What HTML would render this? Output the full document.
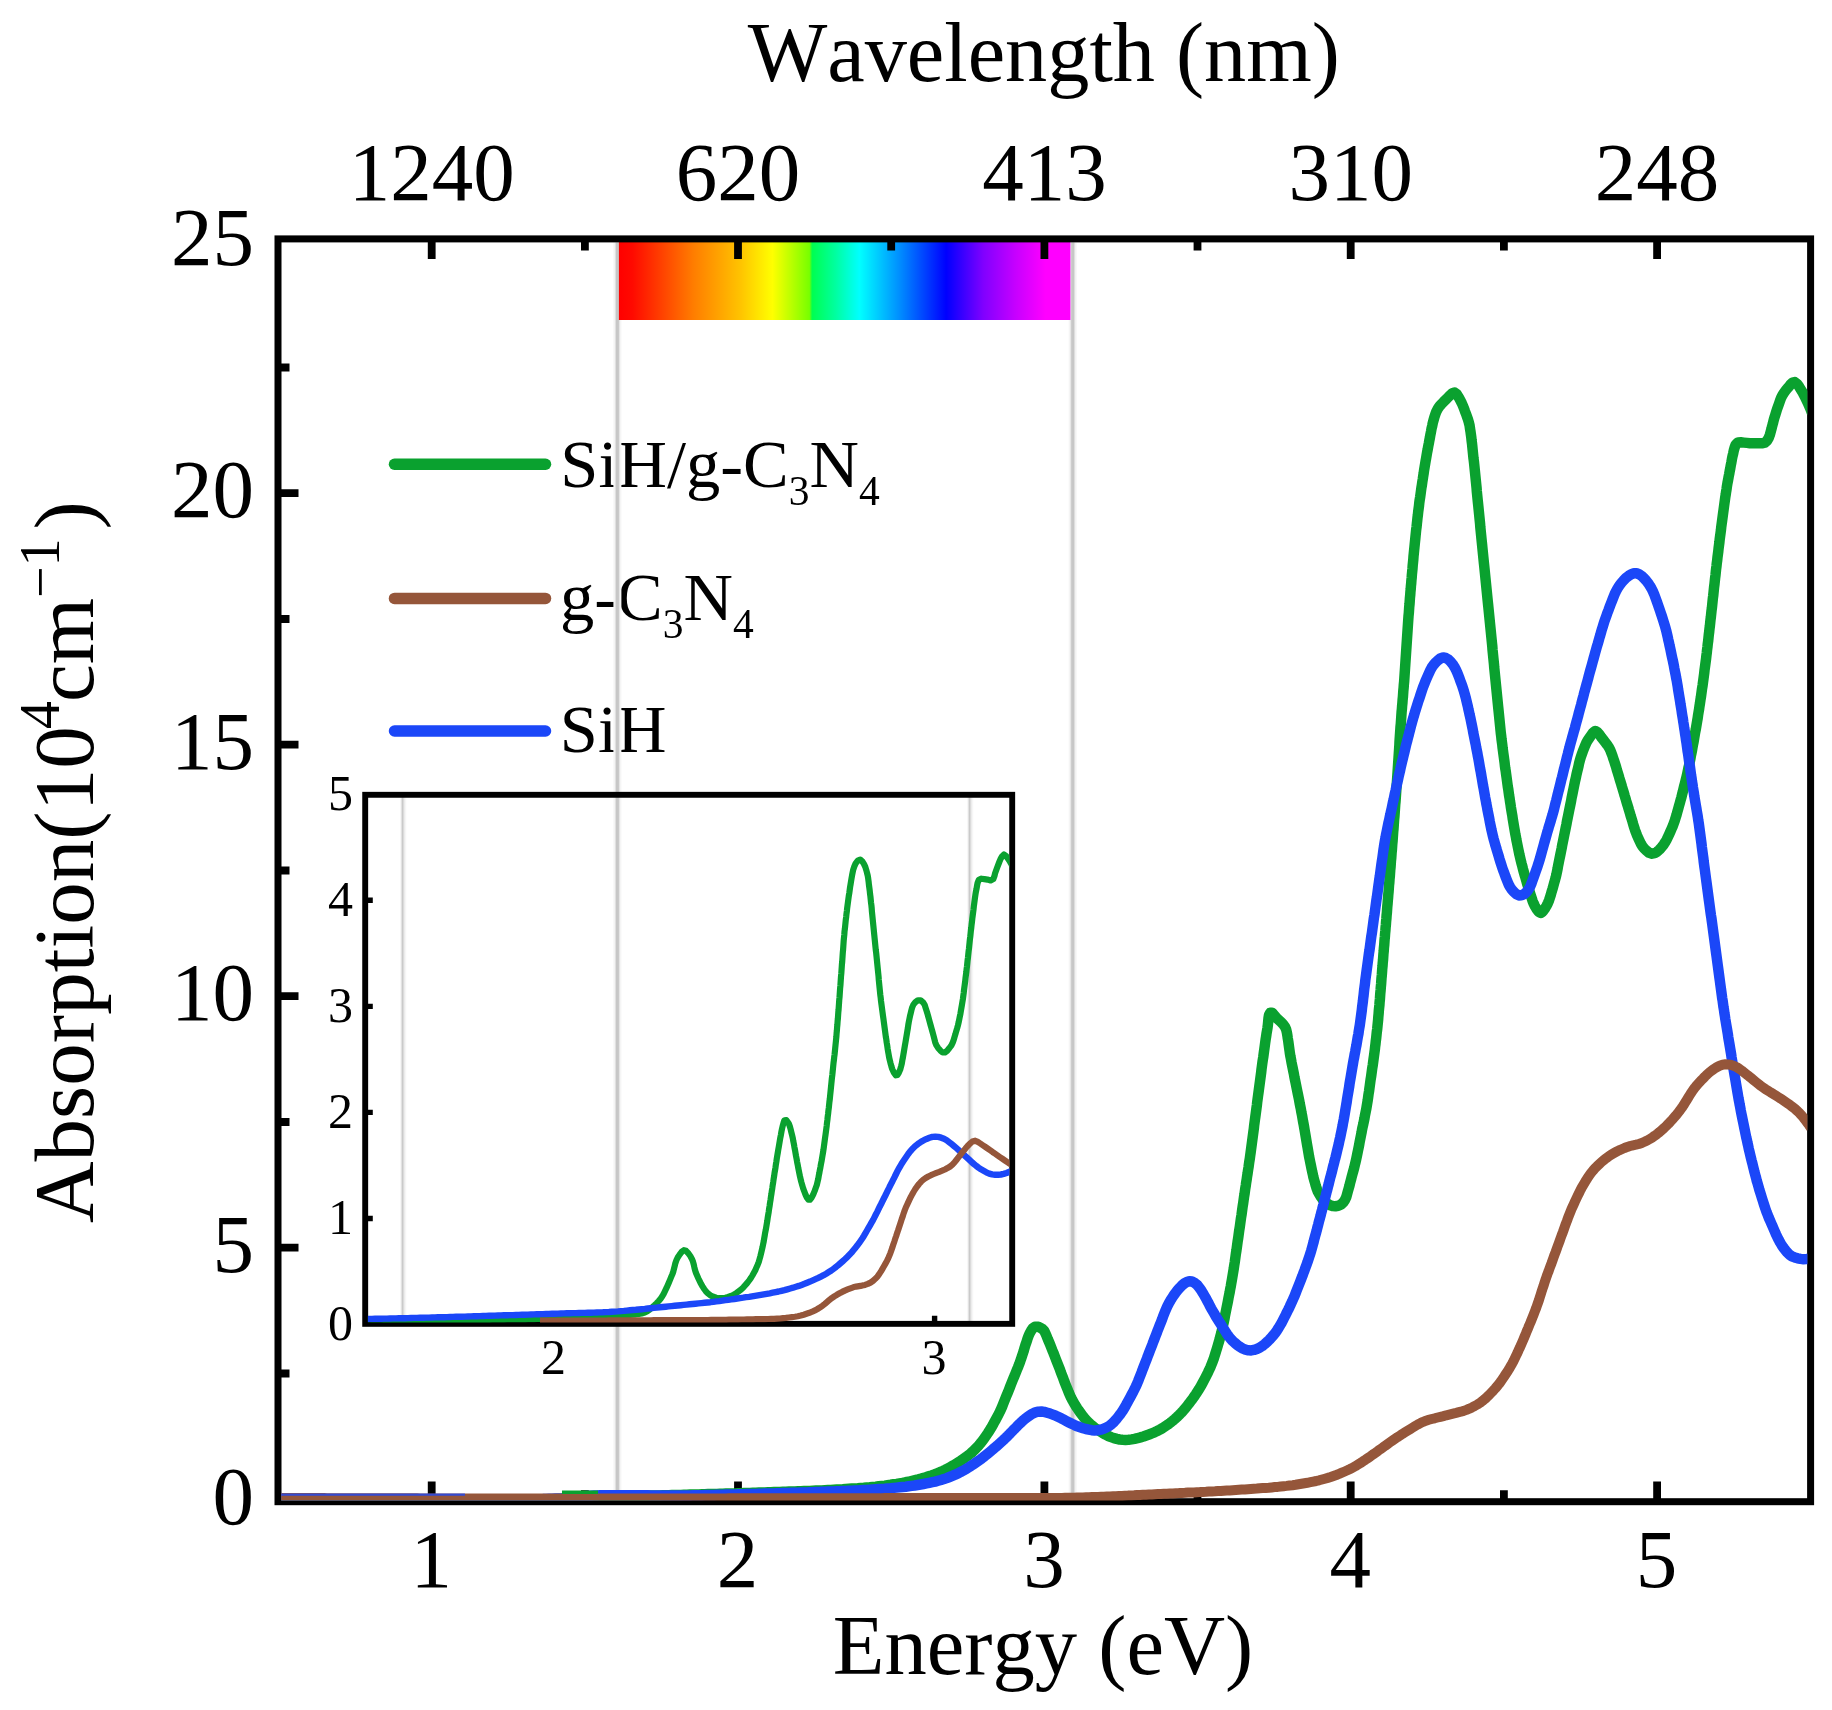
<!DOCTYPE html>
<html lang="en"><head><meta charset="utf-8"><title>Absorption spectra</title>
<style>html,body{margin:0;padding:0;background:#fff}svg{display:block;filter:blur(0.5px)}text{font-family:"Liberation Serif","Times New Roman",serif;fill:#000;font-kerning:none}</style></head><body>
<svg width="1832" height="1710" viewBox="0 0 1832 1710">
<rect width="1832" height="1710" fill="#fff"/>
<defs>
<linearGradient id="spec" x1="0" x2="1" y1="0" y2="0">
<stop offset="0" stop-color="#ff0000"/>
<stop offset="0.03" stop-color="#ff0a00"/>
<stop offset="0.165" stop-color="#ff7d00"/>
<stop offset="0.27" stop-color="#ffc400"/>
<stop offset="0.34" stop-color="#ffff00"/>
<stop offset="0.385" stop-color="#b4ff00"/>
<stop offset="0.422" stop-color="#78ff00"/>
<stop offset="0.428" stop-color="#00ff50"/>
<stop offset="0.48" stop-color="#00ffa0"/>
<stop offset="0.533" stop-color="#00ffff"/>
<stop offset="0.62" stop-color="#0090ff"/>
<stop offset="0.725" stop-color="#0000ff"/>
<stop offset="0.807" stop-color="#8000ff"/>
<stop offset="0.88" stop-color="#c800ff"/>
<stop offset="0.945" stop-color="#ff00ff"/>
<stop offset="1" stop-color="#ff00ff"/>
</linearGradient>
<clipPath id="cm"><rect x="281.2" y="238.9" width="1526.1999999999998" height="1261.6"/></clipPath>
<clipPath id="ci"><rect x="367.9" y="794.8" width="641.6" height="527.7"/></clipPath>
</defs>
<line x1="394.5" y1="464.2" x2="545.5" y2="464.2" stroke="#0aa12f" stroke-width="11.5" stroke-linecap="round"/>
<line x1="394.5" y1="598.4" x2="545.5" y2="598.4" stroke="#95563a" stroke-width="11.5" stroke-linecap="round"/>
<line x1="394.5" y1="731.0" x2="545.5" y2="731.0" stroke="#1b47f8" stroke-width="11.5" stroke-linecap="round"/>
<text x="560.3" y="486.8" font-size="68.5">SiH/g-C<tspan font-size="41.5" dy="18.5">3</tspan><tspan dy="-18.5">N</tspan><tspan font-size="41.5" dy="18.5">4</tspan></text>
<text x="560" y="620.1" font-size="68.5">g-C<tspan font-size="41.5" dy="17.5">3</tspan><tspan dy="-17.5">N</tspan><tspan font-size="41.5" dy="17.5">4</tspan></text>
<text x="559.8" y="752.3" font-size="68.5">SiH</text>
<line x1="617.4" y1="242.4" x2="617.4" y2="1498.2" stroke="#f5f5f5" stroke-width="8"/>
<line x1="617.4" y1="242.4" x2="617.4" y2="1498.2" stroke="#e4e4e4" stroke-width="5"/>
<line x1="617.4" y1="242.4" x2="617.4" y2="1498.2" stroke="#c7c7c7" stroke-width="3"/>
<line x1="1072.7" y1="242.4" x2="1072.7" y2="1498.2" stroke="#f5f5f5" stroke-width="8"/>
<line x1="1072.7" y1="242.4" x2="1072.7" y2="1498.2" stroke="#e4e4e4" stroke-width="5"/>
<line x1="1072.7" y1="242.4" x2="1072.7" y2="1498.2" stroke="#c7c7c7" stroke-width="3"/>
<line x1="403.20000000000005" y1="794.8" x2="403.20000000000005" y2="1323.85" stroke="#f6f6f6" stroke-width="6"/>
<line x1="402.90000000000003" y1="794.8" x2="402.90000000000003" y2="1323.85" stroke="#e6e6e6" stroke-width="3.4"/>
<line x1="402.6" y1="794.8" x2="402.6" y2="1323.85" stroke="#cacaca" stroke-width="1.6"/>
<line x1="970.2" y1="794.8" x2="970.2" y2="1323.85" stroke="#f6f6f6" stroke-width="6"/>
<line x1="969.9" y1="794.8" x2="969.9" y2="1323.85" stroke="#e6e6e6" stroke-width="3.4"/>
<line x1="969.6" y1="794.8" x2="969.6" y2="1323.85" stroke="#cacaca" stroke-width="1.6"/>
<rect x="618.9" y="241.9" width="451.5" height="78.1" fill="url(#spec)"/>
<rect x="278.0" y="238.9" width="1532.6" height="1262.8" fill="none" stroke="#000" stroke-width="7.0"/>
<path d="M431.7 1501.7 V1481.4 M431.7 238.9 V258.9 M738.0 1501.7 V1481.4 M738.0 238.9 V258.9 M1044.4 1501.7 V1481.4 M1044.4 238.9 V258.9 M1350.7 1501.7 V1481.4 M1350.7 238.9 V258.9 M1657.1 1501.7 V1481.4 M1657.1 238.9 V258.9 M584.9 1501.7 V1490.2 M584.9 238.9 V250.4 M891.2 1501.7 V1490.2 M891.2 238.9 V250.4 M1197.5 1501.7 V1490.2 M1197.5 238.9 V250.4 M1503.9 1501.7 V1490.2 M1503.9 238.9 V250.4 M278.0 1247.7 H298.5 M278.0 996.2 H298.5 M278.0 744.7 H298.5 M278.0 493.2 H298.5 M278.0 1373.5 H289.5 M278.0 1122.0 H289.5 M278.0 870.5 H289.5 M278.0 619.0 H289.5 M278.0 367.5 H289.5" stroke="#000" stroke-width="7.8" fill="none"/>
<g clip-path="url(#cm)" fill="none" stroke-linejoin="round" stroke-linecap="butt" stroke-width="10.5">
<path d="M279.0 1499.0 L282.0 1499.1 L285.0 1499.1 L288.0 1499.2 L291.0 1499.3 L294.0 1499.4 L297.0 1499.4 L300.0 1499.5 L303.0 1499.6 L306.0 1499.6 L309.0 1499.7 L312.0 1499.8 L315.0 1499.8 L318.0 1499.9 L321.0 1499.9 L324.0 1500.0 L327.0 1500.1 L330.0 1500.1 L333.0 1500.2 L336.0 1500.2 L339.0 1500.3 L342.0 1500.3 L345.0 1500.4 L348.0 1500.4 L351.0 1500.5 L354.0 1500.5 L357.0 1500.6 L360.0 1500.6 L363.0 1500.6 L366.0 1500.7 L369.0 1500.7 L372.0 1500.7 L375.0 1500.8 L378.0 1500.8 L381.0 1500.8 L384.0 1500.9 L387.0 1500.9 L390.0 1500.9 L393.0 1500.9 L396.0 1501.0 L399.0 1501.0 L402.0 1501.0 L405.0 1501.0 L408.0 1501.0 L411.0 1501.1 L414.0 1501.1 L417.0 1501.1 L420.0 1501.1 L423.0 1501.1 L426.0 1501.1 L429.0 1501.1 L432.0 1501.1 L435.0 1501.1 L438.0 1501.1 L441.0 1501.1 L444.0 1501.1 L447.0 1501.1 L450.0 1501.0 L453.0 1501.0 L456.0 1501.0 L459.0 1501.0 L462.0 1501.0 L465.0 1501.0 L468.0 1500.9 L471.0 1500.9 L474.0 1500.9 L477.0 1500.8 L480.0 1500.8 L483.0 1500.8 L486.0 1500.7 L489.0 1500.7 L492.0 1500.6 L495.0 1500.6 L498.0 1500.6 L501.0 1500.5 L504.0 1500.5 L507.0 1500.4 L510.0 1500.3 L513.0 1500.3 L516.0 1500.2 L519.0 1500.2 L522.0 1500.1 L525.0 1500.0 L528.0 1499.9 L531.0 1499.9 L534.0 1499.8 L537.0 1499.7 L540.0 1499.6 L543.0 1499.5 L546.0 1499.4 L549.0 1499.4 L552.0 1499.3 L555.0 1499.2 L558.0 1499.1 L561.0 1499.0 L564.0 1498.8 L567.0 1498.7 L570.0 1498.6 L573.0 1498.4 L576.0 1498.2 L579.0 1498.0 L582.0 1497.9 L585.0 1497.7 L588.0 1497.5 L591.0 1497.4 L594.0 1497.2 L597.0 1497.1 L600.0 1497.0 L602.9 1496.9 L605.9 1496.8 L608.9 1496.7 L611.9 1496.7 L614.9 1496.6 L617.9 1496.5 L620.9 1496.4 L623.9 1496.3 L626.9 1496.2 L629.9 1496.2 L632.9 1496.1 L635.9 1496.0 L638.9 1495.9 L641.9 1495.9 L644.9 1495.8 L647.9 1495.7 L650.9 1495.6 L653.9 1495.5 L656.9 1495.5 L659.9 1495.4 L662.9 1495.3 L665.9 1495.2 L668.9 1495.2 L671.9 1495.1 L674.9 1495.0 L677.9 1494.9 L680.9 1494.9 L683.9 1494.8 L686.9 1494.7 L689.9 1494.6 L692.9 1494.5 L695.9 1494.5 L698.9 1494.4 L701.9 1494.3 L704.9 1494.2 L707.9 1494.1 L710.9 1494.1 L713.9 1494.0 L716.9 1493.9 L719.9 1493.8 L722.9 1493.7 L725.9 1493.6 L728.9 1493.6 L731.9 1493.5 L734.9 1493.4 L737.9 1493.3 L740.9 1493.2 L743.9 1493.1 L746.9 1493.0 L749.9 1492.9 L752.9 1492.8 L755.9 1492.7 L758.9 1492.6 L761.9 1492.5 L764.9 1492.4 L767.9 1492.3 L770.9 1492.2 L773.9 1492.1 L776.9 1492.0 L779.9 1491.9 L782.9 1491.8 L785.9 1491.7 L788.9 1491.6 L791.9 1491.5 L794.9 1491.4 L797.9 1491.3 L800.9 1491.2 L803.9 1491.1 L806.9 1491.0 L809.9 1490.9 L812.9 1490.7 L815.9 1490.6 L818.9 1490.5 L821.8 1490.4 L824.8 1490.2 L827.8 1490.1 L830.8 1490.0 L833.8 1489.8 L836.8 1489.6 L839.8 1489.5 L842.8 1489.3 L845.8 1489.0 L848.8 1488.8 L851.8 1488.6 L854.8 1488.4 L857.8 1488.2 L860.8 1487.9 L863.8 1487.7 L866.8 1487.4 L869.7 1487.2 L872.7 1486.9 L875.7 1486.6 L878.7 1486.2 L881.7 1485.9 L884.7 1485.6 L887.6 1485.2 L890.6 1484.8 L893.6 1484.3 L896.5 1483.9 L899.5 1483.4 L902.5 1482.9 L905.4 1482.3 L908.4 1481.8 L911.3 1481.1 L914.2 1480.4 L917.1 1479.7 L920.0 1478.9 L922.9 1478.0 L925.8 1477.2 L928.6 1476.3 L931.5 1475.4 L934.3 1474.4 L937.1 1473.3 L939.9 1472.2 L942.7 1471.0 L945.4 1469.7 L948.0 1468.3 L950.7 1466.9 L953.3 1465.4 L955.8 1463.8 L958.4 1462.2 L960.9 1460.6 L963.4 1458.9 L965.9 1457.2 L968.2 1455.4 L970.6 1453.5 L972.8 1451.5 L975.0 1449.4 L977.1 1447.2 L979.1 1445.0 L981.0 1442.7 L982.8 1440.3 L984.6 1437.9 L986.3 1435.4 L988.0 1432.9 L989.6 1430.4 L991.2 1427.8 L992.7 1425.2 L994.1 1422.6 L995.6 1419.9 L997.0 1417.3 L998.4 1414.6 L999.7 1412.0 L1001.0 1409.2 L1002.2 1406.5 L1003.3 1403.7 L1004.4 1400.9 L1005.5 1398.1 L1006.6 1395.3 L1007.8 1392.6 L1008.9 1389.8 L1010.0 1387.0 L1011.1 1384.2 L1012.2 1381.4 L1013.3 1378.6 L1014.5 1375.9 L1015.6 1373.1 L1016.7 1370.3 L1017.9 1367.5 L1019.0 1364.7 L1020.0 1361.9 L1021.0 1359.1 L1021.9 1356.3 L1022.9 1353.4 L1023.8 1350.6 L1024.6 1347.7 L1025.5 1344.8 L1026.5 1342.0 L1027.4 1339.1 L1028.4 1336.3 L1029.6 1333.5 L1031.1 1330.8 L1032.8 1328.3 L1035.0 1326.7 L1038.3 1326.8 L1041.7 1328.4 L1044.2 1330.8 L1045.5 1333.5 L1046.7 1336.3 L1047.8 1339.1 L1049.0 1341.9 L1050.1 1344.6 L1051.2 1347.4 L1052.3 1350.2 L1053.5 1353.0 L1054.6 1355.8 L1055.6 1358.5 L1056.7 1361.3 L1057.8 1364.1 L1058.9 1366.9 L1060.0 1369.7 L1061.0 1372.6 L1062.1 1375.4 L1063.2 1378.2 L1064.2 1381.0 L1065.3 1383.8 L1066.4 1386.6 L1067.5 1389.3 L1068.6 1392.1 L1069.8 1394.9 L1071.0 1397.6 L1072.4 1400.2 L1073.9 1402.8 L1075.4 1405.4 L1077.0 1407.9 L1078.7 1410.4 L1080.5 1412.9 L1082.3 1415.3 L1084.2 1417.8 L1086.2 1420.1 L1088.2 1422.2 L1090.4 1424.2 L1092.7 1426.1 L1095.0 1428.0 L1097.5 1429.7 L1100.1 1431.4 L1102.8 1433.1 L1105.5 1434.6 L1108.3 1436.0 L1111.1 1437.1 L1113.9 1438.1 L1116.8 1438.9 L1119.6 1439.5 L1122.6 1439.8 L1125.5 1439.9 L1128.5 1439.8 L1131.5 1439.4 L1134.5 1438.9 L1137.5 1438.2 L1140.4 1437.4 L1143.4 1436.5 L1146.2 1435.5 L1149.0 1434.5 L1151.8 1433.4 L1154.5 1432.3 L1157.2 1431.0 L1159.9 1429.6 L1162.5 1428.1 L1165.1 1426.4 L1167.7 1424.7 L1170.1 1422.9 L1172.5 1421.0 L1174.7 1419.1 L1176.9 1417.1 L1179.1 1415.0 L1181.2 1412.9 L1183.2 1410.7 L1185.2 1408.3 L1187.1 1406.0 L1189.0 1403.6 L1190.8 1401.2 L1192.6 1398.8 L1194.3 1396.4 L1196.0 1393.9 L1197.6 1391.4 L1199.2 1388.9 L1200.7 1386.3 L1202.2 1383.6 L1203.6 1381.0 L1205.0 1378.3 L1206.4 1375.6 L1207.8 1372.9 L1209.0 1370.2 L1210.3 1367.5 L1211.4 1364.8 L1212.5 1362.0 L1213.6 1359.2 L1214.5 1356.3 L1215.4 1353.4 L1216.3 1350.5 L1217.2 1347.7 L1218.0 1344.8 L1218.9 1341.9 L1219.7 1339.0 L1220.4 1336.1 L1221.2 1333.2 L1221.9 1330.3 L1222.6 1327.4 L1223.2 1324.5 L1223.9 1321.5 L1224.5 1318.6 L1225.0 1315.6 L1225.6 1312.7 L1226.2 1309.7 L1226.8 1306.8 L1227.4 1303.9 L1228.0 1300.9 L1228.5 1298.0 L1229.1 1295.0 L1229.7 1292.1 L1230.2 1289.1 L1230.8 1286.2 L1231.3 1283.2 L1231.8 1280.3 L1232.3 1277.3 L1232.8 1274.4 L1233.3 1271.4 L1233.8 1268.4 L1234.2 1265.5 L1234.7 1262.5 L1235.1 1259.5 L1235.5 1256.6 L1235.9 1253.6 L1236.4 1250.6 L1236.8 1247.7 L1237.2 1244.7 L1237.6 1241.7 L1238.1 1238.7 L1238.5 1235.8 L1238.9 1232.8 L1239.3 1229.8 L1239.8 1226.9 L1240.2 1223.9 L1240.6 1220.9 L1241.0 1218.0 L1241.5 1215.0 L1241.9 1212.0 L1242.3 1209.0 L1242.7 1206.1 L1243.2 1203.1 L1243.6 1200.1 L1244.0 1197.2 L1244.5 1194.2 L1244.9 1191.2 L1245.3 1188.3 L1245.8 1185.3 L1246.2 1182.3 L1246.7 1179.4 L1247.1 1176.4 L1247.6 1173.4 L1248.0 1170.5 L1248.5 1167.5 L1248.9 1164.5 L1249.3 1161.6 L1249.8 1158.6 L1250.2 1155.6 L1250.6 1152.7 L1251.0 1149.7 L1251.4 1146.7 L1251.8 1143.7 L1252.2 1140.8 L1252.6 1137.8 L1253.0 1134.8 L1253.4 1131.8 L1253.8 1128.9 L1254.1 1125.9 L1254.5 1122.9 L1254.9 1119.9 L1255.3 1117.0 L1255.7 1114.0 L1256.1 1111.0 L1256.5 1108.0 L1256.9 1105.1 L1257.2 1102.1 L1257.6 1099.1 L1258.0 1096.1 L1258.4 1093.2 L1258.8 1090.2 L1259.2 1087.2 L1259.6 1084.2 L1260.0 1081.3 L1260.4 1078.3 L1260.8 1075.3 L1261.2 1072.3 L1261.5 1069.4 L1261.9 1066.4 L1262.3 1063.4 L1262.7 1060.5 L1263.2 1057.5 L1263.6 1054.5 L1264.0 1051.5 L1264.4 1048.6 L1264.8 1045.6 L1265.2 1042.6 L1265.6 1039.7 L1266.1 1036.7 L1266.5 1033.7 L1267.0 1030.8 L1267.5 1027.8 L1267.9 1024.8 L1268.2 1021.5 L1268.5 1018.2 L1269.0 1015.2 L1270.2 1012.8 L1272.1 1012.7 L1274.4 1015.4 L1276.7 1018.2 L1278.9 1020.2 L1281.1 1022.2 L1283.2 1024.4 L1285.0 1026.8 L1286.2 1029.6 L1286.9 1032.6 L1287.4 1035.6 L1287.8 1038.5 L1288.3 1041.5 L1288.7 1044.5 L1289.1 1047.5 L1289.5 1050.4 L1289.9 1053.4 L1290.4 1056.3 L1291.0 1059.3 L1291.5 1062.2 L1292.1 1065.2 L1292.7 1068.1 L1293.3 1071.1 L1293.9 1074.0 L1294.4 1077.0 L1295.0 1079.9 L1295.6 1082.8 L1296.2 1085.8 L1296.8 1088.7 L1297.4 1091.7 L1298.0 1094.6 L1298.6 1097.5 L1299.2 1100.5 L1299.7 1103.4 L1300.3 1106.4 L1300.9 1109.3 L1301.4 1112.3 L1302.0 1115.2 L1302.5 1118.2 L1303.0 1121.1 L1303.6 1124.1 L1304.1 1127.0 L1304.6 1130.0 L1305.1 1132.9 L1305.6 1135.9 L1306.1 1138.9 L1306.6 1141.8 L1307.1 1144.8 L1307.6 1147.7 L1308.1 1150.7 L1308.6 1153.7 L1309.1 1156.6 L1309.7 1159.5 L1310.3 1162.5 L1310.9 1165.4 L1311.5 1168.4 L1312.1 1171.3 L1312.8 1174.2 L1313.4 1177.2 L1314.2 1180.1 L1315.0 1182.9 L1315.8 1185.8 L1316.7 1188.7 L1317.8 1191.5 L1319.2 1194.1 L1320.8 1196.7 L1322.6 1199.2 L1324.5 1201.4 L1326.8 1203.3 L1329.5 1205.0 L1332.5 1206.0 L1335.5 1206.2 L1338.3 1205.8 L1341.1 1204.5 L1343.4 1202.2 L1345.1 1199.7 L1346.3 1197.0 L1347.1 1194.1 L1347.9 1191.2 L1348.7 1188.4 L1349.5 1185.5 L1350.2 1182.6 L1351.0 1179.7 L1351.7 1176.8 L1352.5 1173.9 L1353.3 1171.0 L1354.1 1168.1 L1354.8 1165.1 L1355.5 1162.2 L1356.2 1159.3 L1356.8 1156.4 L1357.4 1153.4 L1358.0 1150.5 L1358.6 1147.6 L1359.2 1144.6 L1359.7 1141.7 L1360.3 1138.7 L1360.9 1135.8 L1361.5 1132.8 L1362.0 1129.9 L1362.6 1126.9 L1363.3 1124.0 L1363.9 1121.1 L1364.5 1118.1 L1365.0 1115.2 L1365.6 1112.2 L1366.2 1109.3 L1366.7 1106.3 L1367.2 1103.4 L1367.7 1100.4 L1368.1 1097.5 L1368.5 1094.5 L1369.0 1091.5 L1369.4 1088.5 L1369.8 1085.6 L1370.2 1082.6 L1370.6 1079.6 L1371.1 1076.7 L1371.5 1073.7 L1371.9 1070.7 L1372.3 1067.8 L1372.8 1064.8 L1373.2 1061.8 L1373.6 1058.8 L1374.0 1055.9 L1374.4 1052.9 L1374.8 1049.9 L1375.1 1046.9 L1375.5 1044.0 L1375.8 1041.0 L1376.2 1038.0 L1376.5 1035.0 L1376.8 1032.0 L1377.2 1029.1 L1377.5 1026.1 L1377.8 1023.1 L1378.1 1020.1 L1378.3 1017.1 L1378.6 1014.1 L1378.8 1011.1 L1379.1 1008.1 L1379.4 1005.2 L1379.6 1002.2 L1379.9 999.2 L1380.1 996.2 L1380.3 993.2 L1380.6 990.2 L1380.8 987.2 L1381.1 984.2 L1381.3 981.2 L1381.5 978.2 L1381.8 975.2 L1382.0 972.3 L1382.2 969.3 L1382.5 966.3 L1382.7 963.3 L1383.0 960.3 L1383.2 957.3 L1383.4 954.3 L1383.7 951.3 L1383.9 948.3 L1384.2 945.3 L1384.4 942.4 L1384.6 939.4 L1384.9 936.4 L1385.1 933.4 L1385.4 930.4 L1385.6 927.4 L1385.9 924.4 L1386.1 921.4 L1386.4 918.4 L1386.6 915.4 L1386.9 912.5 L1387.1 909.5 L1387.3 906.5 L1387.6 903.5 L1387.8 900.5 L1388.1 897.5 L1388.3 894.5 L1388.6 891.5 L1388.8 888.5 L1389.0 885.5 L1389.3 882.6 L1389.5 879.6 L1389.8 876.6 L1390.0 873.6 L1390.2 870.6 L1390.5 867.6 L1390.7 864.6 L1390.9 861.6 L1391.2 858.6 L1391.4 855.6 L1391.6 852.6 L1391.9 849.7 L1392.1 846.7 L1392.3 843.7 L1392.6 840.7 L1392.8 837.7 L1393.0 834.7 L1393.2 831.7 L1393.5 828.7 L1393.7 825.7 L1393.9 822.7 L1394.1 819.7 L1394.4 816.7 L1394.6 813.8 L1394.8 810.8 L1395.0 807.8 L1395.2 804.8 L1395.5 801.8 L1395.7 798.8 L1395.9 795.8 L1396.1 792.8 L1396.3 789.8 L1396.5 786.8 L1396.8 783.8 L1397.0 780.8 L1397.2 777.9 L1397.4 774.9 L1397.6 771.9 L1397.8 768.9 L1398.0 765.9 L1398.2 762.9 L1398.4 759.9 L1398.6 756.9 L1398.8 753.9 L1399.0 750.9 L1399.2 747.9 L1399.4 744.9 L1399.5 741.9 L1399.7 738.9 L1399.9 735.9 L1400.1 732.9 L1400.3 730.0 L1400.5 727.0 L1400.8 724.0 L1401.0 721.0 L1401.2 718.0 L1401.4 715.0 L1401.6 712.0 L1401.9 709.0 L1402.1 706.0 L1402.4 703.0 L1402.6 700.0 L1402.9 697.1 L1403.1 694.1 L1403.3 691.1 L1403.6 688.1 L1403.8 685.1 L1404.1 682.1 L1404.3 679.1 L1404.5 676.1 L1404.7 673.1 L1404.9 670.1 L1405.1 667.1 L1405.3 664.1 L1405.5 661.2 L1405.7 658.2 L1405.9 655.2 L1406.1 652.2 L1406.3 649.2 L1406.5 646.2 L1406.7 643.2 L1406.9 640.2 L1407.1 637.2 L1407.3 634.2 L1407.5 631.2 L1407.7 628.2 L1407.9 625.2 L1408.1 622.2 L1408.3 619.2 L1408.5 616.3 L1408.8 613.3 L1409.0 610.3 L1409.2 607.3 L1409.5 604.3 L1409.7 601.3 L1409.9 598.3 L1410.2 595.3 L1410.4 592.3 L1410.7 589.3 L1410.9 586.3 L1411.2 583.4 L1411.4 580.4 L1411.7 577.4 L1411.9 574.4 L1412.2 571.4 L1412.5 568.4 L1412.7 565.4 L1413.0 562.4 L1413.3 559.5 L1413.5 556.5 L1413.8 553.5 L1414.1 550.5 L1414.4 547.5 L1414.7 544.5 L1415.0 541.5 L1415.3 538.6 L1415.6 535.6 L1415.9 532.6 L1416.2 529.6 L1416.6 526.6 L1416.9 523.6 L1417.2 520.7 L1417.5 517.7 L1417.9 514.7 L1418.2 511.7 L1418.6 508.7 L1419.0 505.8 L1419.3 502.8 L1419.7 499.8 L1420.2 496.8 L1420.6 493.9 L1421.0 490.9 L1421.4 487.9 L1421.9 485.0 L1422.3 482.0 L1422.8 479.0 L1423.2 476.1 L1423.7 473.1 L1424.1 470.1 L1424.6 467.2 L1425.1 464.2 L1425.6 461.2 L1426.1 458.3 L1426.6 455.3 L1427.1 452.4 L1427.7 449.4 L1428.2 446.5 L1428.8 443.5 L1429.3 440.6 L1429.9 437.6 L1430.4 434.7 L1431.0 431.7 L1431.5 428.8 L1432.2 425.9 L1432.8 422.9 L1433.6 420.0 L1434.4 417.1 L1435.3 414.3 L1436.4 411.4 L1437.8 408.8 L1439.5 406.3 L1441.5 404.0 L1443.6 401.8 L1445.7 399.7 L1447.8 397.6 L1450.1 395.3 L1452.4 393.2 L1454.6 392.5 L1456.7 394.2 L1458.7 397.3 L1460.3 400.3 L1461.7 403.0 L1462.9 405.8 L1464.0 408.5 L1465.0 411.3 L1466.1 414.1 L1467.1 417.0 L1468.1 419.8 L1468.9 422.7 L1469.6 425.6 L1470.0 428.6 L1470.5 431.6 L1470.9 434.5 L1471.3 437.5 L1471.6 440.5 L1472.0 443.5 L1472.3 446.4 L1472.6 449.4 L1472.9 452.4 L1473.2 455.4 L1473.5 458.4 L1473.9 461.4 L1474.2 464.3 L1474.5 467.3 L1474.8 470.3 L1475.1 473.3 L1475.4 476.3 L1475.7 479.3 L1476.0 482.2 L1476.3 485.2 L1476.6 488.2 L1476.8 491.2 L1477.1 494.2 L1477.4 497.2 L1477.7 500.2 L1478.0 503.1 L1478.3 506.1 L1478.6 509.1 L1478.9 512.1 L1479.2 515.1 L1479.5 518.1 L1479.8 521.1 L1480.1 524.0 L1480.3 527.0 L1480.6 530.0 L1480.9 533.0 L1481.2 536.0 L1481.5 539.0 L1481.8 542.0 L1482.1 544.9 L1482.4 547.9 L1482.7 550.9 L1483.0 553.9 L1483.3 556.9 L1483.6 559.9 L1483.9 562.9 L1484.2 565.8 L1484.5 568.8 L1484.8 571.8 L1485.1 574.8 L1485.4 577.8 L1485.7 580.8 L1486.0 583.8 L1486.3 586.7 L1486.6 589.7 L1486.9 592.7 L1487.2 595.7 L1487.5 598.7 L1487.8 601.7 L1488.1 604.6 L1488.4 607.6 L1488.7 610.6 L1489.0 613.6 L1489.3 616.6 L1489.6 619.6 L1489.9 622.6 L1490.2 625.5 L1490.5 628.5 L1490.8 631.5 L1491.1 634.5 L1491.4 637.5 L1491.7 640.5 L1492.0 643.5 L1492.3 646.4 L1492.5 649.4 L1492.8 652.4 L1493.1 655.4 L1493.4 658.4 L1493.7 661.4 L1494.0 664.4 L1494.2 667.3 L1494.5 670.3 L1494.8 673.3 L1495.1 676.3 L1495.4 679.3 L1495.7 682.3 L1496.0 685.3 L1496.3 688.2 L1496.6 691.2 L1496.9 694.2 L1497.2 697.2 L1497.5 700.2 L1497.8 703.2 L1498.1 706.2 L1498.4 709.1 L1498.7 712.1 L1499.0 715.1 L1499.3 718.1 L1499.6 721.1 L1499.9 724.1 L1500.2 727.1 L1500.5 730.0 L1500.8 733.0 L1501.2 736.0 L1501.5 739.0 L1501.9 742.0 L1502.3 744.9 L1502.6 747.9 L1503.0 750.9 L1503.4 753.9 L1503.8 756.8 L1504.2 759.8 L1504.6 762.8 L1504.9 765.8 L1505.3 768.7 L1505.8 771.7 L1506.2 774.7 L1506.6 777.6 L1507.0 780.6 L1507.4 783.6 L1507.8 786.6 L1508.3 789.5 L1508.7 792.5 L1509.1 795.5 L1509.6 798.4 L1510.0 801.4 L1510.5 804.4 L1510.9 807.3 L1511.4 810.3 L1511.9 813.3 L1512.4 816.2 L1512.8 819.2 L1513.3 822.1 L1513.8 825.1 L1514.3 828.1 L1514.8 831.0 L1515.3 834.0 L1515.9 836.9 L1516.4 839.9 L1517.0 842.8 L1517.6 845.8 L1518.2 848.7 L1518.8 851.6 L1519.4 854.6 L1520.1 857.5 L1520.8 860.4 L1521.5 863.3 L1522.3 866.2 L1523.0 869.1 L1523.8 872.0 L1524.6 874.9 L1525.5 877.8 L1526.3 880.7 L1527.1 883.6 L1528.0 886.4 L1528.9 889.3 L1529.8 892.2 L1530.7 895.0 L1531.6 897.9 L1532.5 900.7 L1533.6 903.4 L1534.9 906.1 L1536.5 908.8 L1538.6 911.7 L1540.8 913.0 L1542.8 911.5 L1544.8 908.7 L1546.5 905.9 L1547.9 903.1 L1549.0 900.4 L1549.9 897.6 L1550.8 894.8 L1551.6 891.9 L1552.5 889.0 L1553.3 886.1 L1554.1 883.2 L1554.9 880.3 L1555.7 877.4 L1556.4 874.5 L1557.0 871.6 L1557.6 868.6 L1558.1 865.7 L1558.7 862.7 L1559.3 859.8 L1559.9 856.9 L1560.5 853.9 L1561.1 851.0 L1561.7 848.0 L1562.2 845.1 L1562.8 842.2 L1563.4 839.2 L1564.0 836.3 L1564.6 833.3 L1565.2 830.4 L1565.8 827.4 L1566.4 824.5 L1566.9 821.6 L1567.5 818.6 L1568.1 815.7 L1568.7 812.7 L1569.3 809.8 L1569.9 806.9 L1570.5 803.9 L1571.1 801.0 L1571.6 798.0 L1572.2 795.1 L1572.8 792.1 L1573.4 789.2 L1574.0 786.3 L1574.6 783.3 L1575.2 780.4 L1575.9 777.5 L1576.5 774.5 L1577.2 771.6 L1577.9 768.7 L1578.6 765.8 L1579.2 762.8 L1580.0 759.9 L1580.8 757.1 L1581.8 754.2 L1582.8 751.4 L1583.9 748.6 L1585.0 745.8 L1586.2 743.1 L1587.6 740.5 L1589.3 738.0 L1591.2 735.3 L1593.3 732.3 L1595.3 731.0 L1597.4 732.1 L1599.4 734.4 L1601.3 737.2 L1603.3 739.8 L1605.2 742.2 L1607.1 744.7 L1608.7 747.1 L1610.1 749.7 L1611.2 752.5 L1612.3 755.3 L1613.2 758.2 L1614.2 761.0 L1615.1 763.9 L1616.0 766.7 L1616.8 769.6 L1617.7 772.5 L1618.6 775.3 L1619.4 778.2 L1620.3 781.1 L1621.2 784.0 L1622.0 786.8 L1622.9 789.7 L1623.8 792.6 L1624.6 795.5 L1625.5 798.3 L1626.3 801.2 L1627.2 804.1 L1628.1 807.0 L1628.9 809.8 L1629.8 812.7 L1630.6 815.6 L1631.5 818.4 L1632.4 821.3 L1633.2 824.2 L1634.1 827.1 L1635.0 829.9 L1636.0 832.7 L1637.1 835.5 L1638.3 838.3 L1639.6 841.0 L1640.9 843.7 L1642.4 846.2 L1644.2 848.5 L1646.5 850.7 L1649.1 852.8 L1652.0 853.7 L1654.6 853.2 L1657.2 851.7 L1659.6 849.5 L1661.7 847.1 L1663.6 844.7 L1665.2 842.2 L1666.6 839.7 L1667.9 837.0 L1669.2 834.2 L1670.4 831.5 L1671.6 828.7 L1672.8 826.0 L1673.8 823.2 L1674.8 820.4 L1675.7 817.5 L1676.6 814.6 L1677.4 811.7 L1678.2 808.8 L1679.0 805.9 L1679.8 803.1 L1680.6 800.2 L1681.4 797.3 L1682.1 794.4 L1682.9 791.4 L1683.6 788.5 L1684.3 785.6 L1685.1 782.7 L1685.8 779.8 L1686.5 776.9 L1687.2 774.0 L1687.8 771.0 L1688.4 768.1 L1689.1 765.2 L1689.7 762.2 L1690.3 759.3 L1690.8 756.3 L1691.4 753.4 L1692.0 750.5 L1692.5 747.5 L1693.0 744.6 L1693.6 741.6 L1694.1 738.6 L1694.6 735.7 L1695.1 732.7 L1695.7 729.8 L1696.2 726.8 L1696.7 723.9 L1697.2 720.9 L1697.7 718.0 L1698.1 715.0 L1698.6 712.0 L1699.1 709.1 L1699.5 706.1 L1700.0 703.1 L1700.4 700.2 L1700.9 697.2 L1701.3 694.2 L1701.7 691.3 L1702.1 688.3 L1702.6 685.3 L1703.0 682.3 L1703.4 679.4 L1703.8 676.4 L1704.2 673.4 L1704.5 670.4 L1704.9 667.5 L1705.3 664.5 L1705.7 661.5 L1706.1 658.5 L1706.4 655.6 L1706.8 652.6 L1707.1 649.6 L1707.5 646.6 L1707.8 643.6 L1708.2 640.7 L1708.5 637.7 L1708.8 634.7 L1709.2 631.7 L1709.5 628.7 L1709.9 625.8 L1710.2 622.8 L1710.5 619.8 L1710.9 616.8 L1711.2 613.8 L1711.5 610.9 L1711.9 607.9 L1712.2 604.9 L1712.5 601.9 L1712.8 598.9 L1713.2 595.9 L1713.5 593.0 L1713.8 590.0 L1714.1 587.0 L1714.5 584.0 L1714.8 581.0 L1715.1 578.1 L1715.5 575.1 L1715.8 572.1 L1716.1 569.1 L1716.5 566.1 L1716.8 563.1 L1717.2 560.2 L1717.5 557.2 L1717.9 554.2 L1718.3 551.2 L1718.6 548.3 L1719.0 545.3 L1719.4 542.3 L1719.7 539.3 L1720.1 536.3 L1720.5 533.4 L1720.9 530.4 L1721.2 527.4 L1721.6 524.4 L1722.0 521.5 L1722.4 518.5 L1722.8 515.5 L1723.2 512.5 L1723.6 509.6 L1724.0 506.6 L1724.4 503.6 L1724.8 500.7 L1725.2 497.7 L1725.7 494.7 L1726.1 491.8 L1726.6 488.8 L1727.0 485.8 L1727.5 482.9 L1728.1 479.9 L1728.6 477.0 L1729.2 474.0 L1729.7 471.1 L1730.3 468.1 L1730.8 465.2 L1731.4 462.2 L1731.9 459.3 L1732.5 456.3 L1733.2 453.4 L1733.8 450.5 L1734.6 447.6 L1735.7 444.6 L1737.9 442.4 L1740.9 442.3 L1743.9 442.6 L1746.9 442.9 L1749.8 443.2 L1752.8 443.3 L1755.8 443.3 L1758.8 443.3 L1761.8 443.3 L1764.8 442.6 L1767.1 440.7 L1768.7 437.9 L1769.8 435.0 L1770.6 432.1 L1771.4 429.2 L1772.1 426.3 L1772.9 423.4 L1773.6 420.5 L1774.4 417.6 L1775.3 414.8 L1776.2 411.9 L1777.1 409.0 L1778.1 406.2 L1779.1 403.4 L1780.1 400.5 L1781.2 397.7 L1782.5 395.1 L1784.1 392.6 L1785.9 390.2 L1788.0 387.7 L1790.2 384.9 L1792.6 382.6 L1794.8 382.1 L1796.8 383.6 L1798.7 386.0 L1800.5 388.9 L1802.2 391.7 L1803.6 394.4 L1805.0 397.0 L1806.3 399.7 L1807.6 402.4 L1808.8 405.1 L1810.0 407.9 L1811.1 410.7 L1812.0 413.0" stroke="#0aa12f"/>
<path d="M279.0 1498.4 L282.0 1498.5 L285.0 1498.6 L288.0 1498.8 L291.0 1498.9 L294.0 1499.0 L297.0 1499.1 L300.0 1499.2 L303.0 1499.3 L306.0 1499.4 L309.0 1499.5 L312.0 1499.6 L315.1 1499.7 L318.1 1499.8 L321.1 1499.8 L324.1 1499.9 L327.1 1500.0 L330.1 1500.1 L333.1 1500.2 L336.1 1500.2 L339.1 1500.3 L342.1 1500.4 L345.1 1500.4 L348.1 1500.5 L351.1 1500.6 L354.1 1500.6 L357.1 1500.7 L360.1 1500.7 L363.1 1500.8 L366.1 1500.8 L369.1 1500.9 L372.1 1500.9 L375.1 1501.0 L378.1 1501.0 L381.1 1501.0 L384.1 1501.1 L387.1 1501.1 L390.1 1501.1 L393.1 1501.2 L396.1 1501.2 L399.1 1501.2 L402.1 1501.2 L405.1 1501.2 L408.1 1501.2 L411.1 1501.2 L414.1 1501.3 L417.1 1501.3 L420.1 1501.3 L423.1 1501.3 L426.1 1501.3 L429.1 1501.2 L432.1 1501.2 L435.1 1501.2 L438.1 1501.2 L441.1 1501.2 L444.1 1501.2 L447.1 1501.1 L450.1 1501.1 L453.1 1501.1 L456.1 1501.1 L459.1 1501.0 L462.1 1501.0 L465.1 1501.0 L468.1 1500.9 L471.1 1500.9 L474.1 1500.8 L477.1 1500.8 L480.1 1500.7 L483.1 1500.7 L486.1 1500.6 L489.1 1500.6 L492.1 1500.5 L495.1 1500.4 L498.1 1500.4 L501.1 1500.3 L504.1 1500.2 L507.1 1500.2 L510.1 1500.1 L513.1 1500.0 L516.1 1499.9 L519.1 1499.8 L522.1 1499.7 L525.1 1499.7 L528.0 1499.6 L531.0 1499.5 L534.0 1499.4 L537.0 1499.3 L540.0 1499.2 L543.0 1499.1 L546.0 1498.9 L549.0 1498.8 L552.0 1498.7 L555.0 1498.6 L558.0 1498.5 L561.0 1498.4 L564.0 1498.2 L567.0 1498.0 L570.0 1497.7 L573.0 1497.4 L575.9 1497.1 L578.9 1496.8 L581.9 1496.4 L584.9 1496.2 L587.9 1495.9 L590.9 1495.7 L593.9 1495.5 L596.9 1495.4 L599.9 1495.3 L602.9 1495.3 L605.9 1495.3 L608.9 1495.2 L611.9 1495.2 L614.9 1495.2 L617.9 1495.2 L620.9 1495.2 L623.9 1495.2 L626.9 1495.2 L629.9 1495.2 L632.9 1495.2 L635.9 1495.2 L638.9 1495.3 L641.9 1495.3 L644.9 1495.3 L647.9 1495.3 L650.9 1495.4 L653.9 1495.4 L656.9 1495.4 L659.9 1495.4 L662.9 1495.4 L665.9 1495.4 L668.9 1495.5 L671.9 1495.5 L674.9 1495.5 L677.9 1495.5 L680.9 1495.4 L683.9 1495.4 L686.9 1495.4 L689.9 1495.4 L692.9 1495.3 L695.9 1495.3 L698.9 1495.2 L701.9 1495.2 L704.9 1495.1 L707.9 1495.0 L710.9 1495.0 L713.9 1494.9 L716.9 1494.8 L719.9 1494.7 L722.9 1494.7 L725.9 1494.6 L728.9 1494.5 L731.9 1494.5 L734.9 1494.4 L737.9 1494.3 L740.9 1494.2 L743.9 1494.2 L746.9 1494.1 L749.9 1494.0 L752.9 1493.9 L755.9 1493.9 L758.9 1493.8 L761.9 1493.7 L764.9 1493.6 L767.9 1493.5 L770.9 1493.5 L773.9 1493.4 L776.9 1493.3 L779.9 1493.2 L782.9 1493.1 L785.9 1493.0 L788.8 1492.9 L791.8 1492.8 L794.8 1492.7 L797.8 1492.7 L800.8 1492.6 L803.8 1492.5 L806.8 1492.4 L809.8 1492.3 L812.8 1492.2 L815.8 1492.0 L818.8 1491.9 L821.8 1491.8 L824.8 1491.7 L827.8 1491.6 L830.8 1491.5 L833.8 1491.4 L836.8 1491.3 L839.8 1491.2 L842.8 1491.0 L845.8 1490.9 L848.8 1490.8 L851.8 1490.7 L854.8 1490.5 L857.8 1490.4 L860.8 1490.2 L863.8 1490.0 L866.8 1489.9 L869.8 1489.7 L872.8 1489.5 L875.8 1489.3 L878.8 1489.1 L881.8 1488.9 L884.7 1488.7 L887.7 1488.4 L890.7 1488.2 L893.7 1487.9 L896.7 1487.6 L899.7 1487.3 L902.7 1487.0 L905.7 1486.7 L908.6 1486.3 L911.6 1485.9 L914.6 1485.5 L917.5 1485.0 L920.5 1484.5 L923.4 1484.0 L926.4 1483.4 L929.3 1482.8 L932.3 1482.2 L935.2 1481.6 L938.1 1480.8 L941.0 1480.0 L943.9 1479.1 L946.7 1478.1 L949.5 1477.0 L952.3 1475.9 L955.1 1474.7 L957.8 1473.4 L960.5 1472.1 L963.1 1470.7 L965.7 1469.2 L968.3 1467.6 L970.8 1466.0 L973.3 1464.3 L975.8 1462.6 L978.3 1460.9 L980.7 1459.2 L983.1 1457.4 L985.4 1455.5 L987.8 1453.6 L990.1 1451.7 L992.4 1449.8 L994.7 1447.8 L997.0 1445.9 L999.2 1443.9 L1001.4 1441.9 L1003.6 1439.9 L1005.8 1437.8 L1007.9 1435.7 L1010.0 1433.5 L1012.1 1431.4 L1014.2 1429.2 L1016.3 1427.1 L1018.4 1424.9 L1020.6 1422.9 L1022.8 1420.8 L1025.0 1418.9 L1027.3 1417.1 L1029.8 1415.4 L1032.4 1413.7 L1035.3 1412.4 L1038.3 1411.7 L1041.4 1411.5 L1044.3 1411.9 L1047.2 1412.7 L1050.1 1413.6 L1052.9 1414.6 L1055.7 1415.7 L1058.5 1417.0 L1061.2 1418.3 L1063.8 1419.7 L1066.4 1421.1 L1069.1 1422.5 L1071.7 1423.8 L1074.5 1425.1 L1077.3 1426.3 L1080.1 1427.3 L1083.0 1428.2 L1085.9 1429.0 L1088.8 1429.6 L1091.7 1430.2 L1094.7 1430.5 L1097.7 1430.3 L1100.7 1429.7 L1103.6 1428.8 L1106.4 1427.5 L1109.0 1426.1 L1111.4 1424.3 L1113.7 1422.1 L1115.8 1419.8 L1117.7 1417.5 L1119.6 1415.1 L1121.3 1412.7 L1123.0 1410.2 L1124.5 1407.7 L1126.0 1405.1 L1127.4 1402.5 L1128.9 1399.8 L1130.3 1397.2 L1131.7 1394.5 L1133.1 1391.9 L1134.5 1389.2 L1135.8 1386.5 L1137.0 1383.8 L1138.2 1381.0 L1139.3 1378.2 L1140.4 1375.4 L1141.5 1372.6 L1142.5 1369.8 L1143.6 1367.0 L1144.7 1364.2 L1145.8 1361.4 L1146.9 1358.6 L1147.9 1355.8 L1149.0 1353.0 L1150.1 1350.2 L1151.2 1347.4 L1152.3 1344.6 L1153.3 1341.8 L1154.4 1339.0 L1155.5 1336.2 L1156.6 1333.4 L1157.6 1330.6 L1158.7 1327.8 L1159.8 1325.1 L1160.9 1322.3 L1162.0 1319.5 L1163.0 1316.7 L1164.1 1313.9 L1165.2 1311.1 L1166.4 1308.4 L1167.6 1305.7 L1169.0 1303.1 L1170.4 1300.6 L1172.0 1298.0 L1173.7 1295.4 L1175.5 1292.9 L1177.5 1290.3 L1179.7 1287.8 L1182.0 1285.4 L1184.4 1283.4 L1186.8 1282.0 L1189.3 1281.2 L1191.9 1281.5 L1194.7 1282.9 L1197.3 1285.1 L1199.4 1287.7 L1201.2 1290.3 L1202.8 1292.9 L1204.3 1295.5 L1205.8 1298.1 L1207.2 1300.7 L1208.6 1303.3 L1209.9 1306.0 L1211.3 1308.6 L1212.8 1311.1 L1214.3 1313.7 L1215.8 1316.3 L1217.4 1318.8 L1219.0 1321.4 L1220.6 1323.9 L1222.2 1326.5 L1223.8 1329.0 L1225.4 1331.5 L1227.0 1334.1 L1228.8 1336.5 L1230.6 1338.7 L1232.6 1340.9 L1234.8 1342.9 L1237.2 1344.9 L1239.8 1346.8 L1242.6 1348.5 L1245.5 1349.7 L1248.3 1350.3 L1251.2 1350.4 L1254.0 1349.9 L1256.8 1349.0 L1259.5 1347.7 L1262.2 1346.1 L1264.8 1344.0 L1267.3 1341.8 L1269.5 1339.6 L1271.6 1337.3 L1273.6 1335.0 L1275.4 1332.7 L1277.0 1330.4 L1278.6 1327.9 L1280.1 1325.4 L1281.6 1322.8 L1283.0 1320.1 L1284.3 1317.5 L1285.7 1314.8 L1287.0 1312.1 L1288.4 1309.4 L1289.7 1306.7 L1290.9 1304.0 L1292.2 1301.3 L1293.4 1298.5 L1294.6 1295.8 L1295.7 1293.0 L1296.8 1290.2 L1297.9 1287.4 L1299.0 1284.6 L1300.1 1281.8 L1301.2 1279.0 L1302.3 1276.2 L1303.3 1273.4 L1304.4 1270.6 L1305.4 1267.8 L1306.5 1264.9 L1307.5 1262.1 L1308.4 1259.3 L1309.4 1256.4 L1310.3 1253.6 L1311.2 1250.7 L1312.0 1247.8 L1312.8 1244.9 L1313.6 1242.0 L1314.3 1239.1 L1315.1 1236.2 L1315.9 1233.3 L1316.7 1230.4 L1317.4 1227.5 L1318.2 1224.6 L1318.9 1221.7 L1319.7 1218.8 L1320.5 1215.9 L1321.2 1213.0 L1322.0 1210.1 L1322.7 1207.2 L1323.5 1204.3 L1324.2 1201.4 L1324.9 1198.5 L1325.7 1195.6 L1326.4 1192.7 L1327.2 1189.8 L1327.9 1186.9 L1328.7 1184.0 L1329.4 1181.1 L1330.1 1178.2 L1330.9 1175.3 L1331.7 1172.4 L1332.4 1169.5 L1333.1 1166.5 L1333.9 1163.6 L1334.6 1160.7 L1335.4 1157.8 L1336.1 1154.9 L1336.8 1152.0 L1337.5 1149.1 L1338.2 1146.2 L1338.9 1143.2 L1339.5 1140.3 L1340.2 1137.4 L1340.8 1134.4 L1341.4 1131.5 L1342.0 1128.6 L1342.6 1125.6 L1343.1 1122.7 L1343.7 1119.7 L1344.2 1116.8 L1344.7 1113.8 L1345.2 1110.8 L1345.7 1107.9 L1346.2 1104.9 L1346.7 1102.0 L1347.1 1099.0 L1347.6 1096.0 L1348.1 1093.1 L1348.6 1090.1 L1349.1 1087.2 L1349.5 1084.2 L1350.0 1081.2 L1350.5 1078.3 L1351.0 1075.3 L1351.5 1072.4 L1352.0 1069.4 L1352.5 1066.4 L1353.0 1063.5 L1353.5 1060.5 L1354.1 1057.6 L1354.6 1054.6 L1355.2 1051.7 L1355.7 1048.7 L1356.3 1045.8 L1356.8 1042.8 L1357.3 1039.9 L1357.8 1036.9 L1358.4 1034.0 L1358.8 1031.0 L1359.3 1028.0 L1359.8 1025.1 L1360.2 1022.1 L1360.6 1019.1 L1361.0 1016.2 L1361.4 1013.2 L1361.8 1010.2 L1362.1 1007.2 L1362.5 1004.3 L1362.9 1001.3 L1363.2 998.3 L1363.6 995.3 L1363.9 992.3 L1364.2 989.4 L1364.6 986.4 L1365.0 983.4 L1365.3 980.4 L1365.7 977.4 L1366.1 974.5 L1366.5 971.5 L1366.9 968.5 L1367.3 965.6 L1367.7 962.6 L1368.1 959.6 L1368.5 956.6 L1368.9 953.7 L1369.4 950.7 L1369.8 947.7 L1370.2 944.8 L1370.6 941.8 L1371.0 938.8 L1371.4 935.8 L1371.9 932.9 L1372.3 929.9 L1372.7 926.9 L1373.1 924.0 L1373.5 921.0 L1373.9 918.0 L1374.4 915.0 L1374.8 912.1 L1375.2 909.1 L1375.6 906.1 L1376.0 903.2 L1376.4 900.2 L1376.9 897.2 L1377.3 894.2 L1377.7 891.3 L1378.1 888.3 L1378.5 885.3 L1378.9 882.4 L1379.3 879.4 L1379.8 876.4 L1380.2 873.5 L1380.6 870.5 L1381.0 867.5 L1381.4 864.5 L1381.8 861.6 L1382.3 858.6 L1382.7 855.6 L1383.1 852.7 L1383.5 849.7 L1384.0 846.7 L1384.4 843.8 L1384.9 840.8 L1385.5 837.9 L1386.0 834.9 L1386.6 832.0 L1387.2 829.0 L1387.8 826.1 L1388.4 823.1 L1389.1 820.2 L1389.7 817.3 L1390.4 814.3 L1391.0 811.4 L1391.7 808.5 L1392.3 805.5 L1392.9 802.6 L1393.6 799.7 L1394.2 796.8 L1394.8 793.8 L1395.5 790.9 L1396.1 788.0 L1396.8 785.0 L1397.4 782.1 L1398.1 779.2 L1398.7 776.3 L1399.4 773.3 L1400.1 770.4 L1400.7 767.5 L1401.4 764.6 L1402.1 761.6 L1402.8 758.7 L1403.5 755.8 L1404.2 752.9 L1404.9 750.0 L1405.6 747.0 L1406.3 744.1 L1407.1 741.2 L1407.8 738.3 L1408.6 735.4 L1409.3 732.5 L1410.1 729.6 L1410.8 726.7 L1411.6 723.8 L1412.4 720.9 L1413.2 718.0 L1414.1 715.1 L1414.9 712.3 L1415.8 709.4 L1416.7 706.5 L1417.6 703.7 L1418.5 700.8 L1419.5 698.0 L1420.4 695.1 L1421.3 692.3 L1422.3 689.4 L1423.3 686.6 L1424.4 683.8 L1425.5 681.1 L1426.7 678.3 L1427.9 675.5 L1429.1 672.8 L1430.4 670.0 L1431.8 667.4 L1433.5 665.0 L1435.4 662.8 L1437.6 660.6 L1440.3 658.5 L1443.1 657.5 L1445.8 658.0 L1448.4 659.5 L1450.7 661.7 L1452.7 664.2 L1454.4 666.8 L1455.8 669.4 L1457.0 672.1 L1458.1 674.8 L1459.2 677.6 L1460.2 680.4 L1461.3 683.3 L1462.3 686.1 L1463.2 688.9 L1464.1 691.8 L1464.9 694.7 L1465.7 697.6 L1466.4 700.5 L1467.1 703.4 L1467.8 706.3 L1468.4 709.3 L1469.1 712.2 L1469.7 715.1 L1470.4 718.0 L1471.0 721.0 L1471.6 723.9 L1472.2 726.9 L1472.8 729.8 L1473.3 732.8 L1473.9 735.7 L1474.5 738.6 L1475.1 741.6 L1475.7 744.5 L1476.2 747.5 L1476.8 750.4 L1477.4 753.4 L1477.9 756.3 L1478.5 759.3 L1479.0 762.2 L1479.5 765.2 L1480.0 768.1 L1480.6 771.1 L1481.1 774.0 L1481.6 777.0 L1482.1 779.9 L1482.6 782.9 L1483.1 785.9 L1483.7 788.8 L1484.2 791.8 L1484.7 794.7 L1485.2 797.7 L1485.8 800.6 L1486.3 803.6 L1486.9 806.5 L1487.4 809.5 L1488.0 812.4 L1488.6 815.4 L1489.2 818.3 L1489.7 821.2 L1490.3 824.2 L1490.9 827.1 L1491.5 830.1 L1492.2 833.0 L1492.9 835.9 L1493.6 838.8 L1494.4 841.7 L1495.2 844.6 L1496.1 847.5 L1496.9 850.3 L1497.8 853.2 L1498.7 856.1 L1499.5 859.0 L1500.4 861.9 L1501.3 864.7 L1502.2 867.5 L1503.2 870.4 L1504.3 873.2 L1505.3 876.0 L1506.4 878.8 L1507.5 881.6 L1508.6 884.4 L1510.0 886.9 L1511.6 889.3 L1513.6 891.7 L1516.1 894.0 L1518.9 895.4 L1521.6 895.3 L1524.3 894.0 L1526.8 891.8 L1528.7 889.2 L1530.2 886.5 L1531.3 883.9 L1532.3 881.1 L1533.3 878.3 L1534.3 875.5 L1535.3 872.6 L1536.3 869.8 L1537.3 867.0 L1538.2 864.1 L1539.1 861.3 L1540.0 858.4 L1540.8 855.5 L1541.6 852.6 L1542.4 849.7 L1543.2 846.8 L1544.0 843.9 L1544.8 841.0 L1545.6 838.2 L1546.4 835.3 L1547.2 832.4 L1548.1 829.5 L1548.9 826.6 L1549.8 823.8 L1550.7 820.9 L1551.5 818.0 L1552.4 815.1 L1553.2 812.3 L1554.0 809.4 L1554.7 806.4 L1555.4 803.5 L1556.2 800.6 L1556.9 797.7 L1557.6 794.8 L1558.3 791.9 L1559.1 789.0 L1559.8 786.1 L1560.5 783.2 L1561.2 780.2 L1562.0 777.3 L1562.7 774.4 L1563.4 771.5 L1564.1 768.6 L1564.9 765.7 L1565.6 762.8 L1566.3 759.9 L1567.0 757.0 L1567.8 754.0 L1568.5 751.1 L1569.3 748.2 L1570.0 745.3 L1570.8 742.4 L1571.6 739.6 L1572.4 736.7 L1573.2 733.8 L1574.0 730.9 L1574.9 728.0 L1575.6 725.1 L1576.4 722.2 L1577.2 719.3 L1578.0 716.4 L1578.7 713.5 L1579.5 710.6 L1580.3 707.7 L1581.1 704.8 L1581.8 701.9 L1582.6 699.0 L1583.4 696.1 L1584.1 693.2 L1584.9 690.3 L1585.7 687.4 L1586.5 684.5 L1587.3 681.6 L1588.1 678.7 L1588.8 675.8 L1589.6 672.9 L1590.4 670.0 L1591.2 667.2 L1592.0 664.3 L1592.8 661.4 L1593.6 658.5 L1594.4 655.6 L1595.2 652.7 L1596.0 649.8 L1596.8 646.9 L1597.7 644.0 L1598.5 641.2 L1599.3 638.3 L1600.2 635.4 L1601.0 632.5 L1601.8 629.6 L1602.7 626.8 L1603.6 623.9 L1604.5 621.0 L1605.5 618.2 L1606.5 615.4 L1607.5 612.6 L1608.6 609.8 L1609.6 607.0 L1610.7 604.2 L1611.8 601.3 L1612.9 598.5 L1614.0 595.8 L1615.1 593.1 L1616.4 590.5 L1617.8 588.0 L1619.5 585.4 L1621.4 582.9 L1623.6 580.4 L1626.0 577.9 L1628.7 575.8 L1631.3 574.2 L1634.0 573.3 L1636.5 573.3 L1639.0 574.2 L1641.5 575.8 L1643.9 578.1 L1646.2 580.6 L1648.2 583.2 L1649.9 585.8 L1651.5 588.5 L1652.8 591.1 L1654.0 593.8 L1655.0 596.5 L1656.0 599.2 L1657.0 602.0 L1658.0 604.9 L1659.0 607.7 L1660.0 610.6 L1660.9 613.4 L1661.9 616.3 L1662.8 619.1 L1663.7 622.0 L1664.6 624.8 L1665.4 627.7 L1666.2 630.6 L1666.9 633.5 L1667.6 636.5 L1668.2 639.4 L1668.9 642.3 L1669.5 645.3 L1670.2 648.2 L1670.8 651.1 L1671.4 654.1 L1672.0 657.0 L1672.7 659.9 L1673.3 662.9 L1673.9 665.8 L1674.4 668.7 L1675.0 671.7 L1675.6 674.6 L1676.1 677.6 L1676.7 680.5 L1677.2 683.5 L1677.7 686.4 L1678.1 689.4 L1678.6 692.4 L1679.1 695.3 L1679.6 698.3 L1680.1 701.3 L1680.5 704.2 L1681.0 707.2 L1681.5 710.1 L1681.9 713.1 L1682.4 716.1 L1682.9 719.0 L1683.3 722.0 L1683.8 725.0 L1684.2 727.9 L1684.7 730.9 L1685.1 733.9 L1685.6 736.8 L1686.0 739.8 L1686.5 742.8 L1686.9 745.7 L1687.3 748.7 L1687.7 751.7 L1688.2 754.6 L1688.6 757.6 L1689.0 760.6 L1689.4 763.6 L1689.9 766.5 L1690.3 769.5 L1690.7 772.5 L1691.1 775.4 L1691.6 778.4 L1692.0 781.4 L1692.5 784.3 L1692.9 787.3 L1693.4 790.3 L1693.9 793.2 L1694.3 796.2 L1694.8 799.1 L1695.3 802.1 L1695.8 805.1 L1696.3 808.0 L1696.8 811.0 L1697.3 813.9 L1697.8 816.9 L1698.2 819.9 L1698.7 822.8 L1699.1 825.8 L1699.5 828.8 L1699.9 831.8 L1700.3 834.7 L1700.7 837.7 L1701.1 840.7 L1701.5 843.7 L1701.8 846.6 L1702.2 849.6 L1702.6 852.6 L1703.0 855.6 L1703.4 858.5 L1703.7 861.5 L1704.1 864.5 L1704.5 867.5 L1704.9 870.4 L1705.3 873.4 L1705.7 876.4 L1706.1 879.4 L1706.5 882.3 L1706.9 885.3 L1707.3 888.3 L1707.7 891.2 L1708.1 894.2 L1708.5 897.2 L1708.9 900.2 L1709.3 903.1 L1709.7 906.1 L1710.1 909.1 L1710.5 912.1 L1710.9 915.0 L1711.4 918.0 L1711.8 921.0 L1712.2 923.9 L1712.6 926.9 L1713.0 929.9 L1713.4 932.9 L1713.8 935.8 L1714.2 938.8 L1714.6 941.8 L1715.0 944.7 L1715.4 947.7 L1715.8 950.7 L1716.2 953.7 L1716.6 956.6 L1717.0 959.6 L1717.4 962.6 L1717.8 965.6 L1718.2 968.5 L1718.6 971.5 L1719.0 974.5 L1719.4 977.5 L1719.8 980.4 L1720.2 983.4 L1720.6 986.4 L1721.0 989.3 L1721.4 992.3 L1721.8 995.3 L1722.2 998.3 L1722.7 1001.2 L1723.1 1004.2 L1723.5 1007.2 L1724.0 1010.1 L1724.4 1013.1 L1724.9 1016.1 L1725.3 1019.0 L1725.8 1022.0 L1726.3 1025.0 L1726.8 1027.9 L1727.3 1030.9 L1727.8 1033.8 L1728.2 1036.8 L1728.7 1039.8 L1729.2 1042.7 L1729.7 1045.7 L1730.2 1048.6 L1730.7 1051.6 L1731.2 1054.6 L1731.6 1057.5 L1732.1 1060.5 L1732.6 1063.4 L1733.1 1066.4 L1733.6 1069.4 L1734.1 1072.3 L1734.6 1075.3 L1735.1 1078.2 L1735.6 1081.2 L1736.1 1084.1 L1736.6 1087.1 L1737.1 1090.1 L1737.6 1093.0 L1738.1 1096.0 L1738.6 1098.9 L1739.2 1101.9 L1739.7 1104.8 L1740.3 1107.8 L1740.8 1110.7 L1741.4 1113.7 L1742.0 1116.6 L1742.6 1119.6 L1743.2 1122.5 L1743.8 1125.4 L1744.4 1128.4 L1745.0 1131.3 L1745.6 1134.2 L1746.2 1137.2 L1746.9 1140.1 L1747.5 1143.0 L1748.2 1146.0 L1748.8 1148.9 L1749.5 1151.8 L1750.2 1154.7 L1750.9 1157.7 L1751.6 1160.6 L1752.4 1163.5 L1753.1 1166.4 L1753.8 1169.3 L1754.5 1172.2 L1755.3 1175.1 L1756.1 1178.0 L1756.8 1180.9 L1757.7 1183.8 L1758.5 1186.7 L1759.3 1189.6 L1760.2 1192.4 L1761.1 1195.3 L1762.0 1198.2 L1762.9 1201.0 L1763.8 1203.9 L1764.7 1206.7 L1765.7 1209.6 L1766.7 1212.4 L1767.8 1215.2 L1768.9 1218.0 L1770.1 1220.7 L1771.3 1223.5 L1772.5 1226.2 L1773.7 1229.0 L1774.9 1231.8 L1776.1 1234.5 L1777.4 1237.2 L1778.7 1239.8 L1780.1 1242.4 L1781.6 1245.0 L1783.3 1247.5 L1785.1 1249.9 L1787.1 1252.3 L1789.4 1254.6 L1791.9 1256.3 L1794.7 1257.4 L1797.6 1258.3 L1800.5 1258.9 L1803.5 1259.2 L1806.4 1259.1 L1809.5 1258.8 L1811.0 1258.5" stroke="#1b47f8"/>
<path d="M279.0 1498.0 L282.0 1498.0 L285.0 1498.0 L288.0 1498.0 L291.0 1498.0 L294.0 1498.1 L297.0 1498.1 L300.0 1498.1 L303.0 1498.1 L306.0 1498.1 L309.0 1498.1 L312.0 1498.1 L315.0 1498.1 L318.0 1498.1 L321.0 1498.1 L324.0 1498.1 L327.0 1498.2 L330.0 1498.2 L333.0 1498.2 L336.0 1498.2 L339.0 1498.2 L342.0 1498.2 L345.0 1498.2 L348.0 1498.2 L351.0 1498.2 L354.0 1498.2 L357.0 1498.2 L360.0 1498.2 L363.0 1498.2 L366.0 1498.3 L369.0 1498.3 L372.0 1498.3 L375.0 1498.3 L378.0 1498.3 L381.0 1498.3 L384.0 1498.3 L387.0 1498.3 L390.0 1498.3 L393.0 1498.3 L396.0 1498.3 L399.0 1498.3 L402.0 1498.3 L405.0 1498.3 L408.0 1498.3 L411.0 1498.3 L414.0 1498.3 L417.0 1498.3 L420.0 1498.4 L423.0 1498.4 L426.0 1498.4 L429.0 1498.4 L432.0 1498.4 L435.0 1498.4 L438.0 1498.4 L441.0 1498.4 L444.0 1498.4 L447.0 1498.4 L450.0 1498.4 L453.0 1498.4 L456.0 1498.4 L459.0 1498.4 L462.0 1498.4 L465.0 1498.4 L468.0 1498.4 L471.0 1498.4 L474.0 1498.4 L477.0 1498.4 L480.0 1498.4 L483.0 1498.4 L486.0 1498.4 L489.0 1498.4 L492.0 1498.4 L495.0 1498.4 L498.0 1498.4 L501.0 1498.4 L504.0 1498.4 L507.0 1498.4 L510.0 1498.4 L513.0 1498.4 L516.0 1498.4 L519.0 1498.4 L522.0 1498.4 L525.0 1498.4 L528.0 1498.4 L531.0 1498.4 L534.0 1498.4 L537.0 1498.4 L540.0 1498.4 L543.0 1498.4 L546.0 1498.4 L549.0 1498.4 L552.0 1498.4 L555.0 1498.4 L558.0 1498.4 L561.0 1498.4 L564.0 1498.4 L567.0 1498.4 L570.0 1498.4 L573.0 1498.4 L576.0 1498.4 L579.0 1498.4 L582.0 1498.4 L585.0 1498.4 L588.0 1498.4 L591.0 1498.4 L594.0 1498.4 L597.0 1498.4 L600.0 1498.4 L603.0 1498.4 L606.0 1498.4 L609.0 1498.4 L612.0 1498.4 L615.0 1498.4 L618.0 1498.4 L621.0 1498.4 L624.0 1498.4 L627.0 1498.4 L630.0 1498.4 L633.0 1498.4 L636.0 1498.4 L639.0 1498.4 L642.0 1498.4 L645.0 1498.4 L648.0 1498.4 L651.0 1498.4 L654.0 1498.4 L657.0 1498.4 L660.0 1498.4 L663.0 1498.4 L666.0 1498.4 L669.0 1498.4 L672.0 1498.4 L675.0 1498.4 L678.0 1498.4 L681.0 1498.4 L684.0 1498.4 L687.0 1498.4 L690.0 1498.4 L693.0 1498.4 L696.0 1498.4 L699.0 1498.4 L702.0 1498.4 L705.0 1498.4 L708.0 1498.4 L711.0 1498.4 L714.0 1498.4 L717.0 1498.4 L720.0 1498.4 L723.0 1498.4 L726.0 1498.4 L729.0 1498.3 L732.0 1498.3 L735.0 1498.3 L738.0 1498.3 L741.0 1498.3 L744.0 1498.3 L747.0 1498.3 L750.0 1498.3 L753.0 1498.3 L756.0 1498.3 L759.0 1498.3 L762.0 1498.3 L765.0 1498.3 L768.0 1498.3 L771.0 1498.3 L774.0 1498.3 L777.0 1498.3 L780.0 1498.3 L783.0 1498.3 L786.0 1498.3 L789.0 1498.3 L792.0 1498.3 L795.0 1498.3 L798.0 1498.3 L801.0 1498.3 L804.0 1498.3 L807.0 1498.3 L810.0 1498.2 L813.0 1498.2 L816.0 1498.2 L819.0 1498.2 L822.0 1498.2 L825.0 1498.2 L828.0 1498.2 L831.0 1498.2 L834.0 1498.2 L837.0 1498.2 L840.0 1498.2 L843.0 1498.2 L846.0 1498.2 L849.0 1498.2 L852.0 1498.2 L855.0 1498.2 L858.0 1498.2 L861.0 1498.2 L864.0 1498.2 L867.0 1498.2 L870.0 1498.2 L873.0 1498.2 L876.0 1498.2 L879.0 1498.2 L882.0 1498.2 L885.0 1498.1 L888.0 1498.1 L891.0 1498.1 L894.0 1498.1 L897.0 1498.1 L900.0 1498.1 L903.0 1498.1 L906.0 1498.1 L909.0 1498.1 L912.0 1498.1 L915.0 1498.1 L918.0 1498.1 L921.0 1498.1 L924.0 1498.1 L927.0 1498.1 L930.0 1498.1 L933.0 1498.1 L936.0 1498.1 L939.0 1498.1 L942.0 1498.1 L945.0 1498.1 L948.0 1498.1 L951.0 1498.1 L954.0 1498.1 L957.0 1498.1 L960.0 1498.0 L963.0 1498.0 L966.0 1498.0 L969.0 1498.0 L972.0 1498.0 L975.0 1498.0 L978.0 1498.0 L981.0 1498.0 L984.0 1498.0 L987.0 1498.0 L990.0 1498.0 L993.0 1498.0 L996.0 1498.0 L999.0 1498.0 L1002.0 1498.0 L1005.0 1498.0 L1008.0 1498.0 L1011.0 1498.0 L1014.0 1498.0 L1017.0 1498.0 L1020.0 1498.0 L1023.0 1498.0 L1026.0 1498.0 L1029.0 1498.0 L1032.0 1498.0 L1035.0 1498.0 L1038.0 1498.0 L1041.0 1498.0 L1044.0 1498.0 L1047.0 1498.0 L1050.0 1498.0 L1053.0 1498.0 L1056.0 1497.9 L1059.0 1497.9 L1062.0 1497.9 L1065.0 1497.8 L1068.0 1497.8 L1071.0 1497.7 L1074.0 1497.7 L1077.0 1497.6 L1080.0 1497.5 L1083.0 1497.4 L1086.0 1497.3 L1089.0 1497.2 L1092.0 1497.1 L1095.0 1497.0 L1098.0 1496.9 L1101.0 1496.8 L1104.0 1496.7 L1107.0 1496.5 L1110.0 1496.4 L1113.0 1496.3 L1116.0 1496.2 L1119.0 1496.0 L1122.0 1495.9 L1125.0 1495.7 L1128.0 1495.6 L1131.0 1495.4 L1134.0 1495.3 L1137.0 1495.1 L1139.9 1495.0 L1142.9 1494.8 L1145.9 1494.7 L1148.9 1494.5 L1151.9 1494.4 L1154.9 1494.2 L1157.9 1494.1 L1160.9 1494.0 L1163.9 1493.8 L1166.9 1493.7 L1169.9 1493.5 L1172.9 1493.4 L1175.9 1493.2 L1178.9 1493.1 L1181.9 1492.9 L1184.9 1492.8 L1187.9 1492.6 L1190.9 1492.5 L1193.9 1492.4 L1196.9 1492.2 L1199.9 1492.1 L1202.9 1491.9 L1205.9 1491.8 L1208.9 1491.6 L1211.9 1491.4 L1214.9 1491.3 L1217.9 1491.1 L1220.8 1491.0 L1223.8 1490.8 L1226.8 1490.6 L1229.8 1490.4 L1232.8 1490.2 L1235.8 1490.0 L1238.8 1489.8 L1241.8 1489.6 L1244.8 1489.4 L1247.8 1489.2 L1250.8 1489.0 L1253.8 1488.8 L1256.8 1488.6 L1259.8 1488.3 L1262.7 1488.1 L1265.7 1487.9 L1268.7 1487.7 L1271.7 1487.4 L1274.7 1487.1 L1277.7 1486.9 L1280.7 1486.5 L1283.7 1486.2 L1286.6 1485.9 L1289.6 1485.5 L1292.6 1485.2 L1295.6 1484.8 L1298.5 1484.3 L1301.5 1483.8 L1304.5 1483.3 L1307.4 1482.8 L1310.4 1482.2 L1313.3 1481.6 L1316.2 1481.0 L1319.1 1480.3 L1322.0 1479.5 L1324.9 1478.7 L1327.8 1477.9 L1330.7 1477.0 L1333.5 1476.0 L1336.3 1475.0 L1339.1 1473.9 L1341.9 1472.7 L1344.7 1471.5 L1347.4 1470.3 L1350.1 1469.0 L1352.8 1467.6 L1355.4 1466.2 L1358.0 1464.6 L1360.5 1463.0 L1363.0 1461.3 L1365.5 1459.7 L1368.0 1458.0 L1370.5 1456.3 L1372.9 1454.5 L1375.4 1452.8 L1377.8 1451.1 L1380.2 1449.3 L1382.7 1447.6 L1385.1 1445.8 L1387.5 1444.1 L1390.0 1442.3 L1392.4 1440.6 L1394.9 1438.9 L1397.4 1437.2 L1399.9 1435.6 L1402.4 1433.9 L1405.0 1432.3 L1407.5 1430.8 L1410.1 1429.2 L1412.6 1427.6 L1415.2 1426.0 L1417.8 1424.5 L1420.5 1423.1 L1423.2 1421.8 L1426.0 1420.7 L1428.8 1419.8 L1431.7 1419.0 L1434.7 1418.3 L1437.6 1417.5 L1440.5 1416.8 L1443.4 1416.1 L1446.3 1415.3 L1449.2 1414.6 L1452.1 1413.9 L1455.0 1413.2 L1457.9 1412.4 L1460.8 1411.7 L1463.7 1410.9 L1466.5 1409.9 L1469.3 1408.7 L1472.0 1407.4 L1474.7 1406.0 L1477.4 1404.5 L1479.9 1402.9 L1482.3 1401.1 L1484.6 1399.2 L1486.8 1397.2 L1489.0 1395.1 L1491.1 1392.9 L1493.2 1390.7 L1495.2 1388.5 L1497.1 1386.2 L1499.0 1383.9 L1500.8 1381.5 L1502.5 1379.0 L1504.2 1376.5 L1505.8 1374.0 L1507.5 1371.4 L1509.1 1368.9 L1510.6 1366.3 L1512.1 1363.7 L1513.5 1361.1 L1514.8 1358.4 L1516.1 1355.7 L1517.4 1353.0 L1518.6 1350.2 L1519.9 1347.5 L1521.1 1344.7 L1522.3 1342.0 L1523.5 1339.2 L1524.6 1336.5 L1525.8 1333.7 L1526.9 1330.9 L1528.1 1328.2 L1529.2 1325.4 L1530.4 1322.6 L1531.5 1319.8 L1532.6 1317.1 L1533.7 1314.3 L1534.8 1311.5 L1535.9 1308.7 L1536.9 1305.9 L1537.9 1303.0 L1538.9 1300.2 L1539.8 1297.3 L1540.7 1294.5 L1541.6 1291.6 L1542.5 1288.8 L1543.5 1285.9 L1544.4 1283.0 L1545.3 1280.2 L1546.3 1277.4 L1547.3 1274.5 L1548.4 1271.7 L1549.4 1268.9 L1550.4 1266.1 L1551.5 1263.3 L1552.5 1260.5 L1553.5 1257.6 L1554.5 1254.8 L1555.6 1252.0 L1556.6 1249.2 L1557.6 1246.4 L1558.7 1243.5 L1559.7 1240.7 L1560.7 1237.9 L1561.7 1235.1 L1562.8 1232.3 L1563.8 1229.5 L1564.8 1226.6 L1565.8 1223.8 L1566.9 1221.0 L1567.9 1218.2 L1569.0 1215.4 L1570.1 1212.6 L1571.2 1209.8 L1572.4 1207.1 L1573.7 1204.3 L1574.9 1201.6 L1576.2 1198.9 L1577.5 1196.2 L1578.8 1193.5 L1580.1 1190.8 L1581.5 1188.1 L1583.0 1185.5 L1584.5 1182.9 L1586.0 1180.4 L1587.7 1177.8 L1589.4 1175.3 L1591.1 1172.9 L1593.0 1170.6 L1595.0 1168.3 L1597.1 1166.2 L1599.3 1164.1 L1601.5 1162.0 L1603.8 1160.1 L1606.2 1158.2 L1608.6 1156.4 L1611.1 1154.8 L1613.6 1153.2 L1616.3 1151.8 L1619.0 1150.4 L1621.7 1149.2 L1624.5 1148.0 L1627.3 1146.9 L1630.1 1146.0 L1633.0 1145.3 L1636.0 1144.7 L1638.9 1144.0 L1641.8 1143.0 L1644.5 1141.8 L1647.2 1140.5 L1649.8 1139.0 L1652.4 1137.4 L1654.8 1135.7 L1657.2 1133.9 L1659.6 1132.0 L1661.9 1130.0 L1664.1 1128.0 L1666.2 1126.0 L1668.4 1123.8 L1670.4 1121.6 L1672.5 1119.4 L1674.4 1117.1 L1676.4 1114.9 L1678.3 1112.5 L1680.1 1110.2 L1681.9 1107.7 L1683.5 1105.3 L1685.1 1102.7 L1686.7 1100.1 L1688.2 1097.6 L1689.8 1095.0 L1691.4 1092.5 L1693.1 1090.0 L1694.9 1087.6 L1696.8 1085.3 L1698.8 1083.0 L1700.8 1080.8 L1702.9 1078.7 L1705.0 1076.5 L1707.2 1074.4 L1709.4 1072.4 L1711.7 1070.6 L1714.1 1068.9 L1716.7 1067.2 L1719.6 1065.7 L1722.5 1064.7 L1725.4 1064.3 L1728.3 1064.4 L1731.2 1065.0 L1734.1 1066.0 L1736.9 1067.3 L1739.5 1069.0 L1742.0 1070.8 L1744.3 1072.6 L1746.6 1074.5 L1749.0 1076.3 L1751.3 1078.2 L1753.6 1080.1 L1755.9 1082.0 L1758.3 1083.9 L1760.6 1085.7 L1763.1 1087.5 L1765.5 1089.2 L1768.1 1090.8 L1770.6 1092.4 L1773.2 1093.9 L1775.8 1095.5 L1778.3 1097.1 L1780.8 1098.7 L1783.3 1100.4 L1785.8 1102.1 L1788.3 1103.8 L1790.7 1105.6 L1793.1 1107.3 L1795.4 1109.2 L1797.6 1111.2 L1799.7 1113.3 L1801.8 1115.6 L1803.7 1117.9 L1805.5 1120.3 L1807.3 1122.7 L1809.1 1125.2 L1810.8 1127.7 L1811.0 1128.0" stroke="#95563a" stroke-width="10"/>
<path d="M281 1494.6 H465" stroke="#1b47f8" stroke-width="2.4" opacity="0.8"/>
<path d="M562 1492.2 H598" stroke="#0aa12f" stroke-width="3.6"/>
</g>
<rect x="365.2" y="794.8" width="647.0" height="529.05" fill="none" stroke="#000" stroke-width="5.9"/>
<path d="M365.2 1218.5 H372.8 M365.2 1112.4 H372.8 M365.2 1006.4 H372.8 M365.2 900.3 H372.8 M554.6 1323.85 V1315.6499999999999 M934.6 1323.85 V1315.6499999999999" stroke="#000" stroke-width="5.4" fill="none"/>
<g clip-path="url(#ci)" fill="none" stroke-linejoin="round" stroke-width="6.2">
<path d="M366.0 1319.5 L369.0 1319.5 L372.0 1319.6 L375.0 1319.6 L378.0 1319.7 L381.0 1319.7 L384.0 1319.8 L387.0 1319.8 L390.0 1319.8 L393.0 1319.9 L396.0 1319.9 L399.0 1319.9 L402.0 1319.9 L405.0 1320.0 L408.0 1320.0 L411.0 1320.0 L414.0 1320.0 L417.0 1320.0 L420.0 1320.0 L423.0 1320.0 L426.0 1320.1 L429.0 1320.1 L432.0 1320.1 L435.0 1320.1 L438.0 1320.1 L441.0 1320.1 L444.0 1320.1 L447.0 1320.1 L450.0 1320.1 L453.0 1320.0 L456.0 1320.0 L459.0 1320.0 L462.0 1320.0 L465.0 1320.0 L468.0 1320.0 L471.0 1319.9 L474.0 1319.9 L477.0 1319.9 L480.0 1319.9 L483.0 1319.8 L486.0 1319.8 L489.0 1319.8 L492.0 1319.7 L495.0 1319.7 L498.0 1319.7 L501.0 1319.6 L504.0 1319.6 L507.0 1319.5 L510.0 1319.5 L513.0 1319.5 L516.0 1319.4 L519.0 1319.4 L522.0 1319.3 L525.0 1319.3 L528.0 1319.2 L531.0 1319.1 L534.0 1319.1 L537.0 1319.0 L540.0 1319.0 L543.0 1318.9 L546.0 1318.8 L549.0 1318.8 L552.0 1318.7 L555.0 1318.6 L558.0 1318.5 L561.0 1318.5 L564.0 1318.4 L567.0 1318.3 L570.0 1318.2 L573.0 1318.1 L576.0 1317.9 L579.0 1317.8 L582.0 1317.7 L585.0 1317.5 L588.0 1317.4 L591.0 1317.2 L594.0 1317.1 L597.0 1316.9 L600.0 1316.7 L603.0 1316.5 L605.9 1316.4 L608.9 1316.2 L611.9 1316.0 L614.9 1315.9 L617.9 1315.7 L620.9 1315.5 L623.9 1315.4 L626.9 1315.2 L629.9 1314.9 L632.9 1314.6 L635.9 1314.3 L638.8 1313.9 L641.8 1313.4 L644.7 1312.6 L647.3 1311.2 L649.8 1309.4 L652.2 1307.4 L654.5 1305.3 L656.7 1303.2 L658.7 1301.0 L660.6 1298.7 L662.3 1296.2 L663.8 1293.6 L665.1 1290.9 L666.4 1288.2 L667.6 1285.5 L668.8 1282.7 L670.0 1279.9 L671.1 1277.2 L672.3 1274.4 L673.3 1271.6 L674.0 1268.8 L674.7 1266.0 L675.4 1263.1 L676.4 1260.3 L677.7 1257.5 L679.6 1254.6 L681.7 1251.8 L683.9 1250.2 L686.0 1250.8 L688.2 1253.2 L690.3 1256.0 L691.9 1258.9 L693.0 1261.7 L693.8 1264.6 L694.4 1267.4 L695.1 1270.3 L696.0 1273.1 L697.2 1275.8 L698.4 1278.5 L699.7 1281.2 L701.0 1283.8 L702.5 1286.4 L704.2 1289.0 L706.0 1291.5 L708.1 1293.6 L710.6 1295.4 L713.3 1296.8 L716.3 1297.8 L719.3 1298.2 L722.2 1298.1 L725.2 1297.7 L728.1 1297.0 L730.9 1296.0 L733.7 1294.7 L736.4 1293.1 L738.8 1291.3 L741.1 1289.5 L743.3 1287.4 L745.3 1285.2 L747.3 1282.9 L749.1 1280.5 L750.8 1278.1 L752.4 1275.5 L753.9 1272.8 L755.3 1270.2 L756.5 1267.4 L757.7 1264.7 L758.8 1261.9 L759.6 1259.0 L760.4 1256.1 L761.1 1253.2 L761.8 1250.3 L762.5 1247.3 L763.1 1244.4 L763.7 1241.5 L764.2 1238.5 L764.7 1235.6 L765.2 1232.6 L765.8 1229.7 L766.3 1226.7 L766.8 1223.7 L767.3 1220.8 L767.7 1217.8 L768.2 1214.9 L768.7 1211.9 L769.1 1208.9 L769.6 1206.0 L770.0 1203.0 L770.5 1200.0 L770.9 1197.1 L771.4 1194.1 L771.8 1191.1 L772.3 1188.2 L772.7 1185.2 L773.2 1182.2 L773.6 1179.3 L774.1 1176.3 L774.5 1173.3 L775.0 1170.4 L775.5 1167.4 L775.9 1164.4 L776.4 1161.5 L776.8 1158.5 L777.3 1155.5 L777.8 1152.6 L778.3 1149.6 L778.8 1146.7 L779.3 1143.7 L779.8 1140.8 L780.3 1137.8 L780.9 1134.8 L781.4 1131.9 L782.0 1128.9 L782.7 1125.9 L783.5 1123.0 L784.4 1120.3 L786.3 1120.1 L788.8 1123.5 L789.9 1126.6 L790.7 1129.5 L791.4 1132.4 L792.1 1135.3 L792.8 1138.3 L793.3 1141.2 L793.9 1144.1 L794.4 1147.1 L795.0 1150.0 L795.5 1153.0 L796.0 1155.9 L796.6 1158.9 L797.1 1161.8 L797.7 1164.8 L798.2 1167.7 L798.8 1170.7 L799.4 1173.6 L800.0 1176.5 L800.7 1179.4 L801.4 1182.3 L802.2 1185.2 L803.1 1188.1 L804.2 1191.2 L805.5 1194.6 L806.9 1197.6 L808.4 1199.6 L809.9 1199.7 L811.5 1197.7 L813.2 1194.5 L814.7 1190.9 L815.8 1187.8 L816.8 1184.9 L817.5 1182.0 L818.2 1179.1 L818.7 1176.2 L819.3 1173.2 L819.8 1170.3 L820.4 1167.3 L820.9 1164.4 L821.5 1161.4 L822.0 1158.5 L822.5 1155.5 L823.0 1152.6 L823.5 1149.6 L823.9 1146.6 L824.3 1143.7 L824.7 1140.7 L825.1 1137.7 L825.5 1134.8 L825.9 1131.8 L826.3 1128.8 L826.7 1125.8 L827.0 1122.8 L827.4 1119.9 L827.7 1116.9 L828.1 1113.9 L828.4 1110.9 L828.8 1107.9 L829.1 1105.0 L829.4 1102.0 L829.8 1099.0 L830.1 1096.0 L830.4 1093.0 L830.7 1090.1 L831.0 1087.1 L831.3 1084.1 L831.6 1081.1 L831.9 1078.1 L832.3 1075.1 L832.6 1072.1 L832.9 1069.2 L833.2 1066.2 L833.5 1063.2 L833.9 1060.2 L834.2 1057.2 L834.6 1054.3 L834.9 1051.3 L835.2 1048.3 L835.5 1045.3 L835.8 1042.3 L836.1 1039.3 L836.4 1036.4 L836.6 1033.4 L836.9 1030.4 L837.1 1027.4 L837.4 1024.4 L837.6 1021.4 L837.9 1018.4 L838.1 1015.4 L838.3 1012.4 L838.6 1009.4 L838.8 1006.4 L839.0 1003.5 L839.2 1000.5 L839.5 997.5 L839.7 994.5 L839.9 991.5 L840.1 988.5 L840.4 985.5 L840.6 982.5 L840.8 979.5 L841.0 976.5 L841.3 973.5 L841.5 970.6 L841.7 967.6 L841.9 964.6 L842.2 961.6 L842.4 958.6 L842.6 955.6 L842.8 952.6 L843.1 949.6 L843.3 946.6 L843.5 943.6 L843.7 940.6 L844.0 937.6 L844.3 934.7 L844.5 931.7 L844.9 928.7 L845.2 925.7 L845.5 922.7 L845.8 919.7 L846.2 916.8 L846.5 913.8 L846.9 910.8 L847.2 907.8 L847.6 904.8 L848.0 901.9 L848.4 898.9 L848.8 895.9 L849.3 893.0 L849.7 890.0 L850.1 887.0 L850.6 884.1 L851.1 881.1 L851.6 878.1 L852.1 875.2 L852.7 872.2 L853.3 869.4 L854.3 866.5 L855.5 863.7 L857.8 860.7 L860.3 859.6 L862.2 861.3 L863.9 863.9 L865.3 866.9 L866.2 869.8 L867.0 872.7 L867.7 875.6 L868.2 878.6 L868.6 881.6 L868.9 884.5 L869.3 887.5 L869.7 890.5 L870.0 893.5 L870.4 896.4 L870.7 899.4 L871.0 902.4 L871.4 905.4 L871.7 908.4 L871.9 911.4 L872.2 914.3 L872.5 917.3 L872.8 920.3 L873.1 923.3 L873.4 926.3 L873.7 929.3 L874.0 932.3 L874.3 935.2 L874.6 938.2 L874.9 941.2 L875.2 944.2 L875.5 947.2 L875.8 950.2 L876.2 953.1 L876.5 956.1 L876.8 959.1 L877.1 962.1 L877.4 965.1 L877.7 968.1 L878.0 971.1 L878.3 974.0 L878.6 977.0 L878.8 980.0 L879.1 983.0 L879.4 986.0 L879.7 989.0 L880.0 992.0 L880.3 994.9 L880.7 997.9 L881.0 1000.9 L881.4 1003.9 L881.8 1006.9 L882.2 1009.8 L882.6 1012.8 L883.0 1015.8 L883.4 1018.7 L883.8 1021.7 L884.2 1024.7 L884.6 1027.7 L885.0 1030.6 L885.4 1033.6 L885.8 1036.6 L886.3 1039.5 L886.7 1042.5 L887.2 1045.5 L887.6 1048.4 L888.1 1051.4 L888.6 1054.3 L889.1 1057.3 L889.8 1060.2 L890.5 1063.1 L891.3 1066.0 L892.2 1069.0 L893.9 1072.6 L895.9 1075.3 L897.5 1074.9 L898.9 1072.6 L900.2 1069.6 L901.1 1066.3 L901.8 1063.4 L902.3 1060.4 L902.9 1057.5 L903.4 1054.5 L903.9 1051.6 L904.4 1048.6 L904.9 1045.6 L905.4 1042.7 L905.9 1039.7 L906.4 1036.8 L906.9 1033.8 L907.4 1030.8 L907.9 1027.9 L908.3 1024.9 L908.8 1022.0 L909.4 1019.0 L910.0 1016.1 L910.7 1013.2 L911.4 1010.3 L912.2 1007.4 L913.4 1004.6 L915.3 1002.3 L917.9 1000.3 L920.7 1000.3 L923.0 1002.3 L924.7 1004.9 L925.6 1007.8 L926.5 1010.7 L927.4 1013.5 L928.2 1016.4 L929.0 1019.3 L929.8 1022.2 L930.6 1025.1 L931.4 1028.0 L932.2 1030.9 L933.0 1033.8 L933.8 1036.7 L934.5 1039.5 L935.2 1042.3 L936.3 1045.1 L938.1 1047.9 L940.4 1050.6 L942.6 1052.5 L944.9 1052.5 L947.2 1050.7 L949.4 1048.0 L951.4 1045.3 L952.7 1042.6 L953.7 1039.9 L954.5 1037.1 L955.4 1034.2 L956.2 1031.3 L957.1 1028.4 L957.9 1025.5 L958.6 1022.6 L959.2 1019.7 L959.8 1016.7 L960.4 1013.8 L960.9 1010.8 L961.4 1007.9 L961.9 1004.9 L962.4 1002.0 L962.9 999.0 L963.3 996.0 L963.7 993.1 L964.0 990.1 L964.4 987.1 L964.8 984.1 L965.2 981.2 L965.5 978.2 L965.9 975.2 L966.3 972.2 L966.6 969.2 L967.0 966.3 L967.3 963.3 L967.6 960.3 L968.0 957.3 L968.3 954.3 L968.6 951.4 L969.0 948.4 L969.3 945.4 L969.6 942.4 L969.9 939.4 L970.3 936.4 L970.6 933.5 L970.9 930.5 L971.3 927.5 L971.6 924.5 L972.0 921.5 L972.3 918.6 L972.7 915.6 L973.1 912.6 L973.5 909.6 L973.8 906.7 L974.2 903.7 L974.6 900.7 L975.0 897.7 L975.4 894.8 L975.9 891.8 L976.5 888.9 L977.0 885.9 L977.6 882.9 L978.8 879.8 L981.4 878.7 L984.4 879.1 L987.5 879.6 L990.6 880.4 L993.3 879.0 L994.4 876.2 L995.1 873.3 L996.1 870.5 L997.1 867.7 L998.2 864.8 L999.3 862.0 L1000.6 858.9 L1002.2 856.2 L1004.0 854.5 L1006.1 856.0 L1008.2 859.1 L1009.9 861.6 L1011.4 864.2 L1012.6 866.9 L1013.0 868.0" stroke="#0aa12f"/>
<path d="M366.0 1319.0 L369.0 1318.9 L372.0 1318.9 L375.0 1318.8 L378.0 1318.8 L381.0 1318.7 L384.0 1318.6 L387.0 1318.6 L390.0 1318.5 L393.0 1318.4 L396.0 1318.4 L399.0 1318.3 L402.0 1318.2 L405.0 1318.2 L408.0 1318.1 L411.0 1318.0 L414.0 1317.9 L417.0 1317.9 L420.0 1317.8 L423.0 1317.7 L426.0 1317.6 L429.0 1317.6 L432.0 1317.5 L435.0 1317.4 L438.0 1317.3 L441.0 1317.2 L444.0 1317.2 L447.0 1317.1 L450.0 1317.0 L453.0 1316.9 L456.0 1316.8 L459.0 1316.7 L462.0 1316.7 L465.0 1316.6 L468.0 1316.5 L471.0 1316.4 L474.0 1316.3 L477.0 1316.2 L480.0 1316.1 L483.0 1316.0 L486.0 1315.9 L489.0 1315.8 L492.0 1315.7 L495.0 1315.6 L498.0 1315.5 L501.0 1315.4 L504.0 1315.3 L506.9 1315.2 L509.9 1315.1 L512.9 1315.1 L515.9 1315.0 L518.9 1314.9 L521.9 1314.8 L524.9 1314.7 L527.9 1314.6 L530.9 1314.5 L533.9 1314.4 L536.9 1314.3 L539.9 1314.2 L542.9 1314.1 L545.9 1314.0 L548.9 1313.9 L551.9 1313.8 L554.9 1313.7 L557.9 1313.6 L560.9 1313.5 L563.9 1313.4 L566.9 1313.3 L569.9 1313.2 L572.9 1313.1 L575.9 1313.1 L578.9 1313.0 L581.9 1312.9 L584.9 1312.9 L587.9 1312.8 L590.9 1312.7 L593.9 1312.6 L596.9 1312.5 L599.9 1312.4 L602.9 1312.3 L605.9 1312.1 L608.9 1312.0 L611.9 1311.8 L614.9 1311.6 L617.9 1311.4 L620.9 1311.1 L623.9 1310.9 L626.9 1310.6 L629.8 1310.3 L632.8 1310.0 L635.8 1309.8 L638.8 1309.5 L641.8 1309.2 L644.8 1308.9 L647.8 1308.5 L650.7 1308.2 L653.7 1307.9 L656.7 1307.6 L659.7 1307.3 L662.7 1307.0 L665.7 1306.7 L668.6 1306.4 L671.6 1306.1 L674.6 1305.8 L677.6 1305.5 L680.6 1305.2 L683.6 1304.9 L686.6 1304.6 L689.5 1304.3 L692.5 1304.0 L695.5 1303.7 L698.5 1303.4 L701.5 1303.1 L704.5 1302.8 L707.4 1302.5 L710.4 1302.2 L713.4 1301.8 L716.4 1301.4 L719.4 1301.1 L722.3 1300.7 L725.3 1300.2 L728.3 1299.8 L731.2 1299.4 L734.2 1299.0 L737.2 1298.5 L740.1 1298.1 L743.1 1297.7 L746.1 1297.2 L749.1 1296.8 L752.0 1296.3 L755.0 1295.8 L757.9 1295.3 L760.9 1294.8 L763.8 1294.3 L766.8 1293.8 L769.8 1293.3 L772.7 1292.7 L775.7 1292.1 L778.6 1291.5 L781.5 1290.8 L784.4 1290.1 L787.3 1289.3 L790.2 1288.5 L793.1 1287.7 L796.0 1286.8 L798.8 1285.9 L801.6 1284.9 L804.5 1283.8 L807.2 1282.7 L810.0 1281.6 L812.8 1280.4 L815.5 1279.2 L818.3 1277.9 L820.9 1276.6 L823.6 1275.2 L826.2 1273.7 L828.8 1272.1 L831.3 1270.5 L833.7 1268.7 L836.1 1266.9 L838.4 1265.0 L840.7 1263.0 L843.0 1261.0 L845.2 1259.0 L847.3 1256.9 L849.4 1254.8 L851.5 1252.6 L853.4 1250.3 L855.3 1248.0 L857.2 1245.6 L859.0 1243.2 L860.7 1240.7 L862.4 1238.2 L864.0 1235.7 L865.5 1233.1 L867.0 1230.5 L868.5 1227.9 L870.0 1225.3 L871.5 1222.7 L873.0 1220.1 L874.4 1217.4 L875.7 1214.8 L877.1 1212.1 L878.4 1209.4 L879.7 1206.7 L881.1 1204.0 L882.4 1201.3 L883.7 1198.7 L885.1 1196.0 L886.4 1193.3 L887.7 1190.6 L889.1 1187.9 L890.4 1185.2 L891.8 1182.6 L893.1 1179.9 L894.5 1177.2 L895.8 1174.5 L897.1 1171.8 L898.5 1169.2 L900.0 1166.6 L901.5 1164.0 L903.1 1161.5 L904.8 1159.0 L906.5 1156.5 L908.2 1154.0 L910.0 1151.6 L912.0 1149.3 L914.1 1147.2 L916.4 1145.2 L918.8 1143.3 L921.3 1141.6 L923.9 1140.2 L926.6 1138.9 L929.4 1137.8 L932.4 1136.9 L935.3 1136.6 L938.2 1136.9 L941.2 1137.7 L944.0 1138.8 L946.7 1140.3 L949.2 1142.2 L951.6 1144.1 L953.9 1146.0 L956.2 1147.9 L958.4 1149.8 L960.6 1151.8 L962.8 1153.8 L965.0 1155.9 L967.2 1157.9 L969.4 1159.9 L971.6 1162.0 L973.9 1164.0 L976.2 1165.9 L978.5 1167.6 L981.0 1169.3 L983.6 1170.8 L986.3 1172.3 L989.2 1173.6 L992.1 1174.4 L995.1 1174.7 L998.0 1174.8 L1000.9 1174.5 L1003.7 1173.9 L1006.6 1173.0 L1009.5 1171.8 L1012.4 1170.3 L1013.0 1170.0" stroke="#1b47f8" stroke-width="6.4"/>
<path d="M540.0 1320.5 L543.0 1320.5 L546.0 1320.5 L549.0 1320.5 L552.0 1320.5 L555.0 1320.5 L558.0 1320.5 L561.0 1320.5 L564.0 1320.5 L567.0 1320.5 L570.0 1320.5 L573.0 1320.5 L576.0 1320.5 L579.0 1320.5 L582.0 1320.5 L585.0 1320.5 L588.0 1320.5 L591.0 1320.5 L594.0 1320.5 L597.0 1320.5 L600.0 1320.5 L603.0 1320.5 L606.0 1320.5 L609.0 1320.4 L612.0 1320.4 L615.0 1320.4 L618.0 1320.4 L621.0 1320.4 L624.0 1320.4 L627.0 1320.4 L630.0 1320.4 L633.0 1320.3 L636.0 1320.3 L639.0 1320.3 L642.0 1320.3 L645.0 1320.3 L648.0 1320.3 L651.0 1320.3 L654.0 1320.2 L657.0 1320.2 L660.0 1320.2 L663.0 1320.2 L666.0 1320.2 L669.0 1320.2 L672.0 1320.1 L675.0 1320.1 L678.0 1320.1 L681.0 1320.1 L684.0 1320.1 L687.0 1320.1 L690.0 1320.0 L693.0 1320.0 L696.0 1320.0 L699.0 1320.0 L702.0 1320.0 L705.0 1320.0 L708.0 1320.0 L711.0 1319.9 L714.0 1319.9 L717.0 1319.9 L720.0 1319.8 L723.0 1319.8 L726.0 1319.8 L729.0 1319.7 L732.0 1319.7 L735.0 1319.6 L738.0 1319.6 L741.0 1319.5 L744.0 1319.5 L747.0 1319.4 L750.0 1319.4 L753.0 1319.3 L756.0 1319.2 L759.0 1319.2 L762.0 1319.1 L765.0 1319.1 L768.0 1319.0 L771.0 1318.9 L774.0 1318.9 L777.0 1318.7 L780.0 1318.5 L783.0 1318.2 L785.9 1317.9 L788.9 1317.5 L791.9 1317.1 L794.9 1316.7 L797.8 1316.2 L800.8 1315.5 L803.7 1314.7 L806.5 1313.8 L809.4 1312.8 L812.2 1311.7 L814.9 1310.4 L817.5 1309.0 L820.1 1307.4 L822.6 1305.7 L824.9 1303.8 L827.2 1301.8 L829.4 1299.9 L831.8 1298.1 L834.3 1296.4 L836.9 1294.8 L839.5 1293.3 L842.1 1291.9 L844.8 1290.6 L847.6 1289.4 L850.4 1288.3 L853.2 1287.3 L856.1 1286.6 L859.1 1286.1 L862.0 1285.6 L865.0 1284.9 L867.8 1283.9 L870.5 1282.6 L873.0 1280.9 L875.3 1278.8 L877.4 1276.6 L879.2 1274.2 L880.8 1271.7 L882.3 1269.1 L883.8 1266.5 L885.3 1263.9 L886.8 1261.2 L888.1 1258.6 L889.3 1255.8 L890.4 1253.1 L891.4 1250.2 L892.4 1247.4 L893.3 1244.5 L894.3 1241.7 L895.2 1238.8 L896.2 1236.0 L897.1 1233.1 L898.1 1230.3 L899.0 1227.5 L900.0 1224.6 L900.9 1221.8 L901.8 1218.9 L902.8 1216.1 L903.7 1213.2 L904.7 1210.4 L905.8 1207.6 L907.0 1204.9 L908.3 1202.1 L909.6 1199.4 L910.9 1196.7 L912.3 1194.1 L913.8 1191.5 L915.4 1188.9 L917.1 1186.5 L919.0 1184.0 L921.0 1181.8 L923.2 1179.8 L925.7 1178.0 L928.3 1176.5 L931.0 1175.2 L933.7 1174.0 L936.5 1172.8 L939.3 1171.8 L942.1 1170.7 L944.9 1169.5 L947.5 1168.1 L950.1 1166.5 L952.4 1164.6 L954.5 1162.4 L956.4 1160.0 L958.2 1157.7 L960.0 1155.3 L961.9 1152.9 L963.8 1150.6 L965.6 1148.3 L967.6 1146.0 L969.7 1143.8 L972.4 1141.5 L975.2 1140.7 L977.8 1141.9 L980.3 1143.5 L982.8 1145.2 L985.3 1146.9 L987.8 1148.6 L990.2 1150.3 L992.7 1152.1 L995.2 1153.8 L997.6 1155.5 L1000.1 1157.2 L1002.6 1158.9 L1005.1 1160.6 L1007.5 1162.3 L1010.0 1164.0 L1012.5 1165.6 L1013.0 1166.0" stroke="#95563a"/>
</g>
<text x="353" y="1339.8" font-size="50" text-anchor="end">0</text>
<text x="353" y="1233.8" font-size="50" text-anchor="end">1</text>
<text x="353" y="1127.7" font-size="50" text-anchor="end">2</text>
<text x="353" y="1021.6" font-size="50" text-anchor="end">3</text>
<text x="353" y="915.6" font-size="50" text-anchor="end">4</text>
<text x="353" y="809.5" font-size="50" text-anchor="end">5</text>
<text x="553.5" y="1374" font-size="50" text-anchor="middle">2</text>
<text x="934" y="1374" font-size="50" text-anchor="middle">3</text>
<text x="431.7" y="200" font-size="83" text-anchor="middle">1240</text>
<text x="738.0" y="200" font-size="83" text-anchor="middle">620</text>
<text x="1044.4" y="200" font-size="83" text-anchor="middle">413</text>
<text x="1350.7" y="200" font-size="83" text-anchor="middle">310</text>
<text x="1657.1" y="200" font-size="83" text-anchor="middle">248</text>
<text x="431.2" y="1587.1" font-size="83" text-anchor="middle">1</text>
<text x="737.5" y="1587.1" font-size="83" text-anchor="middle">2</text>
<text x="1043.9" y="1587.1" font-size="83" text-anchor="middle">3</text>
<text x="1350.2" y="1587.1" font-size="83" text-anchor="middle">4</text>
<text x="1656.6" y="1587.1" font-size="83" text-anchor="middle">5</text>
<text x="254" y="1523.6" font-size="83" text-anchor="end">0</text>
<text x="254" y="1271.9" font-size="83" text-anchor="end">5</text>
<text x="254" y="1020.2" font-size="83" text-anchor="end">10</text>
<text x="254" y="768.5" font-size="83" text-anchor="end">15</text>
<text x="254" y="516.8" font-size="83" text-anchor="end">20</text>
<text x="254" y="265.1" font-size="83" text-anchor="end">25</text>
<text x="1043.8" y="80.7" font-size="84.3" text-anchor="middle">Wavelength (nm)</text>
<text x="1043" y="1673.9" font-size="84.6" text-anchor="middle">Energy (eV)</text>
<text transform="translate(93.4 1223) rotate(-90)" font-size="85.2">Absorption(10<tspan font-size="56" dy="-34.4" dx="-3">4</tspan><tspan dy="34.4" dx="-1">cm</tspan><tspan font-size="56" dy="-34.4">−1</tspan><tspan dy="34.4" dx="9">)</tspan></text>
</svg></body></html>
